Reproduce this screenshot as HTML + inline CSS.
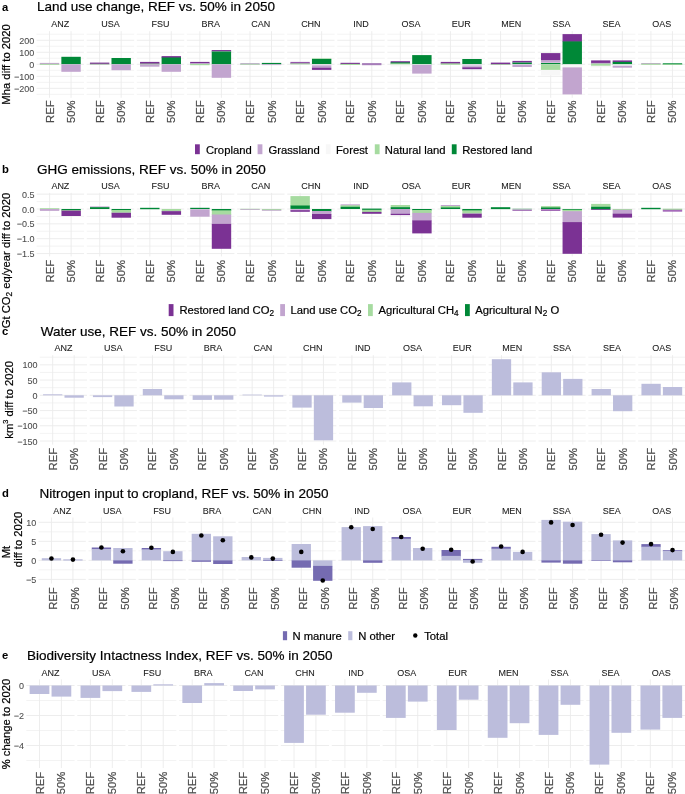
<!DOCTYPE html><html><head><meta charset="utf-8"><style>html,body{margin:0;padding:0;background:#fff;overflow:hidden}svg{display:block;will-change:transform}</style></head><body>
<svg width="685" height="794" viewBox="0 0 685 794" font-family="'Liberation Sans', sans-serif">
<rect width="685" height="794" fill="#fff"/>
<line x1="36.57" x2="83.99" y1="34.22" y2="34.22" stroke="#EBEBEB" stroke-width="0.6"/>
<line x1="36.57" x2="83.99" y1="46.25" y2="46.25" stroke="#EBEBEB" stroke-width="0.6"/>
<line x1="36.57" x2="83.99" y1="58.28" y2="58.28" stroke="#EBEBEB" stroke-width="0.6"/>
<line x1="36.57" x2="83.99" y1="70.31" y2="70.31" stroke="#EBEBEB" stroke-width="0.6"/>
<line x1="36.57" x2="83.99" y1="82.34" y2="82.34" stroke="#EBEBEB" stroke-width="0.6"/>
<line x1="36.57" x2="83.99" y1="94.38" y2="94.38" stroke="#EBEBEB" stroke-width="0.6"/>
<line x1="36.57" x2="83.99" y1="40.24" y2="40.24" stroke="#EBEBEB" stroke-width="0.9"/>
<line x1="36.57" x2="83.99" y1="52.27" y2="52.27" stroke="#EBEBEB" stroke-width="0.9"/>
<line x1="36.57" x2="83.99" y1="64.3" y2="64.3" stroke="#EBEBEB" stroke-width="0.9"/>
<line x1="36.57" x2="83.99" y1="76.33" y2="76.33" stroke="#EBEBEB" stroke-width="0.9"/>
<line x1="36.57" x2="83.99" y1="88.36" y2="88.36" stroke="#EBEBEB" stroke-width="0.9"/>
<line x1="49.5" x2="49.5" y1="31.2" y2="97.8" stroke="#EBEBEB" stroke-width="0.9"/>
<line x1="71.05" x2="71.05" y1="31.2" y2="97.8" stroke="#EBEBEB" stroke-width="0.9"/>
<text font-size="9.0" fill="#1A1A1A" stroke="#1A1A1A" stroke-width="0.08" text-anchor="middle" transform="translate(60.28 27.4) scale(1 1.04)">ANZ</text>
<text font-size="11.25" fill="#4D4D4D" stroke="#4D4D4D" stroke-width="0.20" text-anchor="end" transform="translate(53.5 100.4) rotate(-90) scale(1 1.04)">REF</text>
<text font-size="11.25" fill="#4D4D4D" stroke="#4D4D4D" stroke-width="0.20" text-anchor="end" transform="translate(75.05 100.4) rotate(-90) scale(1 1.015)">50%</text>
<line x1="86.69" x2="134.1" y1="34.22" y2="34.22" stroke="#EBEBEB" stroke-width="0.6"/>
<line x1="86.69" x2="134.1" y1="46.25" y2="46.25" stroke="#EBEBEB" stroke-width="0.6"/>
<line x1="86.69" x2="134.1" y1="58.28" y2="58.28" stroke="#EBEBEB" stroke-width="0.6"/>
<line x1="86.69" x2="134.1" y1="70.31" y2="70.31" stroke="#EBEBEB" stroke-width="0.6"/>
<line x1="86.69" x2="134.1" y1="82.34" y2="82.34" stroke="#EBEBEB" stroke-width="0.6"/>
<line x1="86.69" x2="134.1" y1="94.38" y2="94.38" stroke="#EBEBEB" stroke-width="0.6"/>
<line x1="86.69" x2="134.1" y1="40.24" y2="40.24" stroke="#EBEBEB" stroke-width="0.9"/>
<line x1="86.69" x2="134.1" y1="52.27" y2="52.27" stroke="#EBEBEB" stroke-width="0.9"/>
<line x1="86.69" x2="134.1" y1="64.3" y2="64.3" stroke="#EBEBEB" stroke-width="0.9"/>
<line x1="86.69" x2="134.1" y1="76.33" y2="76.33" stroke="#EBEBEB" stroke-width="0.9"/>
<line x1="86.69" x2="134.1" y1="88.36" y2="88.36" stroke="#EBEBEB" stroke-width="0.9"/>
<line x1="99.62" x2="99.62" y1="31.2" y2="97.8" stroke="#EBEBEB" stroke-width="0.9"/>
<line x1="121.17" x2="121.17" y1="31.2" y2="97.8" stroke="#EBEBEB" stroke-width="0.9"/>
<text font-size="9.0" fill="#1A1A1A" stroke="#1A1A1A" stroke-width="0.08" text-anchor="middle" transform="translate(110.39 27.4) scale(1 1.04)">USA</text>
<text font-size="11.25" fill="#4D4D4D" stroke="#4D4D4D" stroke-width="0.20" text-anchor="end" transform="translate(103.62 100.4) rotate(-90) scale(1 1.04)">REF</text>
<text font-size="11.25" fill="#4D4D4D" stroke="#4D4D4D" stroke-width="0.20" text-anchor="end" transform="translate(125.17 100.4) rotate(-90) scale(1 1.015)">50%</text>
<line x1="136.8" x2="184.22" y1="34.22" y2="34.22" stroke="#EBEBEB" stroke-width="0.6"/>
<line x1="136.8" x2="184.22" y1="46.25" y2="46.25" stroke="#EBEBEB" stroke-width="0.6"/>
<line x1="136.8" x2="184.22" y1="58.28" y2="58.28" stroke="#EBEBEB" stroke-width="0.6"/>
<line x1="136.8" x2="184.22" y1="70.31" y2="70.31" stroke="#EBEBEB" stroke-width="0.6"/>
<line x1="136.8" x2="184.22" y1="82.34" y2="82.34" stroke="#EBEBEB" stroke-width="0.6"/>
<line x1="136.8" x2="184.22" y1="94.38" y2="94.38" stroke="#EBEBEB" stroke-width="0.6"/>
<line x1="136.8" x2="184.22" y1="40.24" y2="40.24" stroke="#EBEBEB" stroke-width="0.9"/>
<line x1="136.8" x2="184.22" y1="52.27" y2="52.27" stroke="#EBEBEB" stroke-width="0.9"/>
<line x1="136.8" x2="184.22" y1="64.3" y2="64.3" stroke="#EBEBEB" stroke-width="0.9"/>
<line x1="136.8" x2="184.22" y1="76.33" y2="76.33" stroke="#EBEBEB" stroke-width="0.9"/>
<line x1="136.8" x2="184.22" y1="88.36" y2="88.36" stroke="#EBEBEB" stroke-width="0.9"/>
<line x1="149.73" x2="149.73" y1="31.2" y2="97.8" stroke="#EBEBEB" stroke-width="0.9"/>
<line x1="171.29" x2="171.29" y1="31.2" y2="97.8" stroke="#EBEBEB" stroke-width="0.9"/>
<text font-size="9.0" fill="#1A1A1A" stroke="#1A1A1A" stroke-width="0.08" text-anchor="middle" transform="translate(160.51 27.4) scale(1 1.04)">FSU</text>
<text font-size="11.25" fill="#4D4D4D" stroke="#4D4D4D" stroke-width="0.20" text-anchor="end" transform="translate(153.73 100.4) rotate(-90) scale(1 1.04)">REF</text>
<text font-size="11.25" fill="#4D4D4D" stroke="#4D4D4D" stroke-width="0.20" text-anchor="end" transform="translate(175.29 100.4) rotate(-90) scale(1 1.015)">50%</text>
<line x1="186.92" x2="234.34" y1="34.22" y2="34.22" stroke="#EBEBEB" stroke-width="0.6"/>
<line x1="186.92" x2="234.34" y1="46.25" y2="46.25" stroke="#EBEBEB" stroke-width="0.6"/>
<line x1="186.92" x2="234.34" y1="58.28" y2="58.28" stroke="#EBEBEB" stroke-width="0.6"/>
<line x1="186.92" x2="234.34" y1="70.31" y2="70.31" stroke="#EBEBEB" stroke-width="0.6"/>
<line x1="186.92" x2="234.34" y1="82.34" y2="82.34" stroke="#EBEBEB" stroke-width="0.6"/>
<line x1="186.92" x2="234.34" y1="94.38" y2="94.38" stroke="#EBEBEB" stroke-width="0.6"/>
<line x1="186.92" x2="234.34" y1="40.24" y2="40.24" stroke="#EBEBEB" stroke-width="0.9"/>
<line x1="186.92" x2="234.34" y1="52.27" y2="52.27" stroke="#EBEBEB" stroke-width="0.9"/>
<line x1="186.92" x2="234.34" y1="64.3" y2="64.3" stroke="#EBEBEB" stroke-width="0.9"/>
<line x1="186.92" x2="234.34" y1="76.33" y2="76.33" stroke="#EBEBEB" stroke-width="0.9"/>
<line x1="186.92" x2="234.34" y1="88.36" y2="88.36" stroke="#EBEBEB" stroke-width="0.9"/>
<line x1="199.85" x2="199.85" y1="31.2" y2="97.8" stroke="#EBEBEB" stroke-width="0.9"/>
<line x1="221.41" x2="221.41" y1="31.2" y2="97.8" stroke="#EBEBEB" stroke-width="0.9"/>
<text font-size="9.0" fill="#1A1A1A" stroke="#1A1A1A" stroke-width="0.08" text-anchor="middle" transform="translate(210.63 27.4) scale(1 1.04)">BRA</text>
<text font-size="11.25" fill="#4D4D4D" stroke="#4D4D4D" stroke-width="0.20" text-anchor="end" transform="translate(203.85 100.4) rotate(-90) scale(1 1.04)">REF</text>
<text font-size="11.25" fill="#4D4D4D" stroke="#4D4D4D" stroke-width="0.20" text-anchor="end" transform="translate(225.41 100.4) rotate(-90) scale(1 1.015)">50%</text>
<line x1="237.04" x2="284.46" y1="34.22" y2="34.22" stroke="#EBEBEB" stroke-width="0.6"/>
<line x1="237.04" x2="284.46" y1="46.25" y2="46.25" stroke="#EBEBEB" stroke-width="0.6"/>
<line x1="237.04" x2="284.46" y1="58.28" y2="58.28" stroke="#EBEBEB" stroke-width="0.6"/>
<line x1="237.04" x2="284.46" y1="70.31" y2="70.31" stroke="#EBEBEB" stroke-width="0.6"/>
<line x1="237.04" x2="284.46" y1="82.34" y2="82.34" stroke="#EBEBEB" stroke-width="0.6"/>
<line x1="237.04" x2="284.46" y1="94.38" y2="94.38" stroke="#EBEBEB" stroke-width="0.6"/>
<line x1="237.04" x2="284.46" y1="40.24" y2="40.24" stroke="#EBEBEB" stroke-width="0.9"/>
<line x1="237.04" x2="284.46" y1="52.27" y2="52.27" stroke="#EBEBEB" stroke-width="0.9"/>
<line x1="237.04" x2="284.46" y1="64.3" y2="64.3" stroke="#EBEBEB" stroke-width="0.9"/>
<line x1="237.04" x2="284.46" y1="76.33" y2="76.33" stroke="#EBEBEB" stroke-width="0.9"/>
<line x1="237.04" x2="284.46" y1="88.36" y2="88.36" stroke="#EBEBEB" stroke-width="0.9"/>
<line x1="249.97" x2="249.97" y1="31.2" y2="97.8" stroke="#EBEBEB" stroke-width="0.9"/>
<line x1="271.53" x2="271.53" y1="31.2" y2="97.8" stroke="#EBEBEB" stroke-width="0.9"/>
<text font-size="9.0" fill="#1A1A1A" stroke="#1A1A1A" stroke-width="0.08" text-anchor="middle" transform="translate(260.75 27.4) scale(1 1.04)">CAN</text>
<text font-size="11.25" fill="#4D4D4D" stroke="#4D4D4D" stroke-width="0.20" text-anchor="end" transform="translate(253.97 100.4) rotate(-90) scale(1 1.04)">REF</text>
<text font-size="11.25" fill="#4D4D4D" stroke="#4D4D4D" stroke-width="0.20" text-anchor="end" transform="translate(275.53 100.4) rotate(-90) scale(1 1.015)">50%</text>
<line x1="287.16" x2="334.57" y1="34.22" y2="34.22" stroke="#EBEBEB" stroke-width="0.6"/>
<line x1="287.16" x2="334.57" y1="46.25" y2="46.25" stroke="#EBEBEB" stroke-width="0.6"/>
<line x1="287.16" x2="334.57" y1="58.28" y2="58.28" stroke="#EBEBEB" stroke-width="0.6"/>
<line x1="287.16" x2="334.57" y1="70.31" y2="70.31" stroke="#EBEBEB" stroke-width="0.6"/>
<line x1="287.16" x2="334.57" y1="82.34" y2="82.34" stroke="#EBEBEB" stroke-width="0.6"/>
<line x1="287.16" x2="334.57" y1="94.38" y2="94.38" stroke="#EBEBEB" stroke-width="0.6"/>
<line x1="287.16" x2="334.57" y1="40.24" y2="40.24" stroke="#EBEBEB" stroke-width="0.9"/>
<line x1="287.16" x2="334.57" y1="52.27" y2="52.27" stroke="#EBEBEB" stroke-width="0.9"/>
<line x1="287.16" x2="334.57" y1="64.3" y2="64.3" stroke="#EBEBEB" stroke-width="0.9"/>
<line x1="287.16" x2="334.57" y1="76.33" y2="76.33" stroke="#EBEBEB" stroke-width="0.9"/>
<line x1="287.16" x2="334.57" y1="88.36" y2="88.36" stroke="#EBEBEB" stroke-width="0.9"/>
<line x1="300.09" x2="300.09" y1="31.2" y2="97.8" stroke="#EBEBEB" stroke-width="0.9"/>
<line x1="321.64" x2="321.64" y1="31.2" y2="97.8" stroke="#EBEBEB" stroke-width="0.9"/>
<text font-size="9.0" fill="#1A1A1A" stroke="#1A1A1A" stroke-width="0.08" text-anchor="middle" transform="translate(310.87 27.4) scale(1 1.04)">CHN</text>
<text font-size="11.25" fill="#4D4D4D" stroke="#4D4D4D" stroke-width="0.20" text-anchor="end" transform="translate(304.09 100.4) rotate(-90) scale(1 1.04)">REF</text>
<text font-size="11.25" fill="#4D4D4D" stroke="#4D4D4D" stroke-width="0.20" text-anchor="end" transform="translate(325.64 100.4) rotate(-90) scale(1 1.015)">50%</text>
<line x1="337.27" x2="384.69" y1="34.22" y2="34.22" stroke="#EBEBEB" stroke-width="0.6"/>
<line x1="337.27" x2="384.69" y1="46.25" y2="46.25" stroke="#EBEBEB" stroke-width="0.6"/>
<line x1="337.27" x2="384.69" y1="58.28" y2="58.28" stroke="#EBEBEB" stroke-width="0.6"/>
<line x1="337.27" x2="384.69" y1="70.31" y2="70.31" stroke="#EBEBEB" stroke-width="0.6"/>
<line x1="337.27" x2="384.69" y1="82.34" y2="82.34" stroke="#EBEBEB" stroke-width="0.6"/>
<line x1="337.27" x2="384.69" y1="94.38" y2="94.38" stroke="#EBEBEB" stroke-width="0.6"/>
<line x1="337.27" x2="384.69" y1="40.24" y2="40.24" stroke="#EBEBEB" stroke-width="0.9"/>
<line x1="337.27" x2="384.69" y1="52.27" y2="52.27" stroke="#EBEBEB" stroke-width="0.9"/>
<line x1="337.27" x2="384.69" y1="64.3" y2="64.3" stroke="#EBEBEB" stroke-width="0.9"/>
<line x1="337.27" x2="384.69" y1="76.33" y2="76.33" stroke="#EBEBEB" stroke-width="0.9"/>
<line x1="337.27" x2="384.69" y1="88.36" y2="88.36" stroke="#EBEBEB" stroke-width="0.9"/>
<line x1="350.21" x2="350.21" y1="31.2" y2="97.8" stroke="#EBEBEB" stroke-width="0.9"/>
<line x1="371.76" x2="371.76" y1="31.2" y2="97.8" stroke="#EBEBEB" stroke-width="0.9"/>
<text font-size="9.0" fill="#1A1A1A" stroke="#1A1A1A" stroke-width="0.08" text-anchor="middle" transform="translate(360.98 27.4) scale(1 1.04)">IND</text>
<text font-size="11.25" fill="#4D4D4D" stroke="#4D4D4D" stroke-width="0.20" text-anchor="end" transform="translate(354.21 100.4) rotate(-90) scale(1 1.04)">REF</text>
<text font-size="11.25" fill="#4D4D4D" stroke="#4D4D4D" stroke-width="0.20" text-anchor="end" transform="translate(375.76 100.4) rotate(-90) scale(1 1.015)">50%</text>
<line x1="387.39" x2="434.81" y1="34.22" y2="34.22" stroke="#EBEBEB" stroke-width="0.6"/>
<line x1="387.39" x2="434.81" y1="46.25" y2="46.25" stroke="#EBEBEB" stroke-width="0.6"/>
<line x1="387.39" x2="434.81" y1="58.28" y2="58.28" stroke="#EBEBEB" stroke-width="0.6"/>
<line x1="387.39" x2="434.81" y1="70.31" y2="70.31" stroke="#EBEBEB" stroke-width="0.6"/>
<line x1="387.39" x2="434.81" y1="82.34" y2="82.34" stroke="#EBEBEB" stroke-width="0.6"/>
<line x1="387.39" x2="434.81" y1="94.38" y2="94.38" stroke="#EBEBEB" stroke-width="0.6"/>
<line x1="387.39" x2="434.81" y1="40.24" y2="40.24" stroke="#EBEBEB" stroke-width="0.9"/>
<line x1="387.39" x2="434.81" y1="52.27" y2="52.27" stroke="#EBEBEB" stroke-width="0.9"/>
<line x1="387.39" x2="434.81" y1="64.3" y2="64.3" stroke="#EBEBEB" stroke-width="0.9"/>
<line x1="387.39" x2="434.81" y1="76.33" y2="76.33" stroke="#EBEBEB" stroke-width="0.9"/>
<line x1="387.39" x2="434.81" y1="88.36" y2="88.36" stroke="#EBEBEB" stroke-width="0.9"/>
<line x1="400.32" x2="400.32" y1="31.2" y2="97.8" stroke="#EBEBEB" stroke-width="0.9"/>
<line x1="421.88" x2="421.88" y1="31.2" y2="97.8" stroke="#EBEBEB" stroke-width="0.9"/>
<text font-size="9.0" fill="#1A1A1A" stroke="#1A1A1A" stroke-width="0.08" text-anchor="middle" transform="translate(411.1 27.4) scale(1 1.04)">OSA</text>
<text font-size="11.25" fill="#4D4D4D" stroke="#4D4D4D" stroke-width="0.20" text-anchor="end" transform="translate(404.32 100.4) rotate(-90) scale(1 1.04)">REF</text>
<text font-size="11.25" fill="#4D4D4D" stroke="#4D4D4D" stroke-width="0.20" text-anchor="end" transform="translate(425.88 100.4) rotate(-90) scale(1 1.015)">50%</text>
<line x1="437.51" x2="484.93" y1="34.22" y2="34.22" stroke="#EBEBEB" stroke-width="0.6"/>
<line x1="437.51" x2="484.93" y1="46.25" y2="46.25" stroke="#EBEBEB" stroke-width="0.6"/>
<line x1="437.51" x2="484.93" y1="58.28" y2="58.28" stroke="#EBEBEB" stroke-width="0.6"/>
<line x1="437.51" x2="484.93" y1="70.31" y2="70.31" stroke="#EBEBEB" stroke-width="0.6"/>
<line x1="437.51" x2="484.93" y1="82.34" y2="82.34" stroke="#EBEBEB" stroke-width="0.6"/>
<line x1="437.51" x2="484.93" y1="94.38" y2="94.38" stroke="#EBEBEB" stroke-width="0.6"/>
<line x1="437.51" x2="484.93" y1="40.24" y2="40.24" stroke="#EBEBEB" stroke-width="0.9"/>
<line x1="437.51" x2="484.93" y1="52.27" y2="52.27" stroke="#EBEBEB" stroke-width="0.9"/>
<line x1="437.51" x2="484.93" y1="64.3" y2="64.3" stroke="#EBEBEB" stroke-width="0.9"/>
<line x1="437.51" x2="484.93" y1="76.33" y2="76.33" stroke="#EBEBEB" stroke-width="0.9"/>
<line x1="437.51" x2="484.93" y1="88.36" y2="88.36" stroke="#EBEBEB" stroke-width="0.9"/>
<line x1="450.44" x2="450.44" y1="31.2" y2="97.8" stroke="#EBEBEB" stroke-width="0.9"/>
<line x1="472" x2="472" y1="31.2" y2="97.8" stroke="#EBEBEB" stroke-width="0.9"/>
<text font-size="9.0" fill="#1A1A1A" stroke="#1A1A1A" stroke-width="0.08" text-anchor="middle" transform="translate(461.22 27.4) scale(1 1.04)">EUR</text>
<text font-size="11.25" fill="#4D4D4D" stroke="#4D4D4D" stroke-width="0.20" text-anchor="end" transform="translate(454.44 100.4) rotate(-90) scale(1 1.04)">REF</text>
<text font-size="11.25" fill="#4D4D4D" stroke="#4D4D4D" stroke-width="0.20" text-anchor="end" transform="translate(476 100.4) rotate(-90) scale(1 1.015)">50%</text>
<line x1="487.63" x2="535.05" y1="34.22" y2="34.22" stroke="#EBEBEB" stroke-width="0.6"/>
<line x1="487.63" x2="535.05" y1="46.25" y2="46.25" stroke="#EBEBEB" stroke-width="0.6"/>
<line x1="487.63" x2="535.05" y1="58.28" y2="58.28" stroke="#EBEBEB" stroke-width="0.6"/>
<line x1="487.63" x2="535.05" y1="70.31" y2="70.31" stroke="#EBEBEB" stroke-width="0.6"/>
<line x1="487.63" x2="535.05" y1="82.34" y2="82.34" stroke="#EBEBEB" stroke-width="0.6"/>
<line x1="487.63" x2="535.05" y1="94.38" y2="94.38" stroke="#EBEBEB" stroke-width="0.6"/>
<line x1="487.63" x2="535.05" y1="40.24" y2="40.24" stroke="#EBEBEB" stroke-width="0.9"/>
<line x1="487.63" x2="535.05" y1="52.27" y2="52.27" stroke="#EBEBEB" stroke-width="0.9"/>
<line x1="487.63" x2="535.05" y1="64.3" y2="64.3" stroke="#EBEBEB" stroke-width="0.9"/>
<line x1="487.63" x2="535.05" y1="76.33" y2="76.33" stroke="#EBEBEB" stroke-width="0.9"/>
<line x1="487.63" x2="535.05" y1="88.36" y2="88.36" stroke="#EBEBEB" stroke-width="0.9"/>
<line x1="500.56" x2="500.56" y1="31.2" y2="97.8" stroke="#EBEBEB" stroke-width="0.9"/>
<line x1="522.12" x2="522.12" y1="31.2" y2="97.8" stroke="#EBEBEB" stroke-width="0.9"/>
<text font-size="9.0" fill="#1A1A1A" stroke="#1A1A1A" stroke-width="0.08" text-anchor="middle" transform="translate(511.34 27.4) scale(1 1.04)">MEN</text>
<text font-size="11.25" fill="#4D4D4D" stroke="#4D4D4D" stroke-width="0.20" text-anchor="end" transform="translate(504.56 100.4) rotate(-90) scale(1 1.04)">REF</text>
<text font-size="11.25" fill="#4D4D4D" stroke="#4D4D4D" stroke-width="0.20" text-anchor="end" transform="translate(526.12 100.4) rotate(-90) scale(1 1.015)">50%</text>
<line x1="537.75" x2="585.16" y1="34.22" y2="34.22" stroke="#EBEBEB" stroke-width="0.6"/>
<line x1="537.75" x2="585.16" y1="46.25" y2="46.25" stroke="#EBEBEB" stroke-width="0.6"/>
<line x1="537.75" x2="585.16" y1="58.28" y2="58.28" stroke="#EBEBEB" stroke-width="0.6"/>
<line x1="537.75" x2="585.16" y1="70.31" y2="70.31" stroke="#EBEBEB" stroke-width="0.6"/>
<line x1="537.75" x2="585.16" y1="82.34" y2="82.34" stroke="#EBEBEB" stroke-width="0.6"/>
<line x1="537.75" x2="585.16" y1="94.38" y2="94.38" stroke="#EBEBEB" stroke-width="0.6"/>
<line x1="537.75" x2="585.16" y1="40.24" y2="40.24" stroke="#EBEBEB" stroke-width="0.9"/>
<line x1="537.75" x2="585.16" y1="52.27" y2="52.27" stroke="#EBEBEB" stroke-width="0.9"/>
<line x1="537.75" x2="585.16" y1="64.3" y2="64.3" stroke="#EBEBEB" stroke-width="0.9"/>
<line x1="537.75" x2="585.16" y1="76.33" y2="76.33" stroke="#EBEBEB" stroke-width="0.9"/>
<line x1="537.75" x2="585.16" y1="88.36" y2="88.36" stroke="#EBEBEB" stroke-width="0.9"/>
<line x1="550.68" x2="550.68" y1="31.2" y2="97.8" stroke="#EBEBEB" stroke-width="0.9"/>
<line x1="572.23" x2="572.23" y1="31.2" y2="97.8" stroke="#EBEBEB" stroke-width="0.9"/>
<text font-size="9.0" fill="#1A1A1A" stroke="#1A1A1A" stroke-width="0.08" text-anchor="middle" transform="translate(561.46 27.4) scale(1 1.04)">SSA</text>
<text font-size="11.25" fill="#4D4D4D" stroke="#4D4D4D" stroke-width="0.20" text-anchor="end" transform="translate(554.68 100.4) rotate(-90) scale(1 1.04)">REF</text>
<text font-size="11.25" fill="#4D4D4D" stroke="#4D4D4D" stroke-width="0.20" text-anchor="end" transform="translate(576.23 100.4) rotate(-90) scale(1 1.015)">50%</text>
<line x1="587.86" x2="635.28" y1="34.22" y2="34.22" stroke="#EBEBEB" stroke-width="0.6"/>
<line x1="587.86" x2="635.28" y1="46.25" y2="46.25" stroke="#EBEBEB" stroke-width="0.6"/>
<line x1="587.86" x2="635.28" y1="58.28" y2="58.28" stroke="#EBEBEB" stroke-width="0.6"/>
<line x1="587.86" x2="635.28" y1="70.31" y2="70.31" stroke="#EBEBEB" stroke-width="0.6"/>
<line x1="587.86" x2="635.28" y1="82.34" y2="82.34" stroke="#EBEBEB" stroke-width="0.6"/>
<line x1="587.86" x2="635.28" y1="94.38" y2="94.38" stroke="#EBEBEB" stroke-width="0.6"/>
<line x1="587.86" x2="635.28" y1="40.24" y2="40.24" stroke="#EBEBEB" stroke-width="0.9"/>
<line x1="587.86" x2="635.28" y1="52.27" y2="52.27" stroke="#EBEBEB" stroke-width="0.9"/>
<line x1="587.86" x2="635.28" y1="64.3" y2="64.3" stroke="#EBEBEB" stroke-width="0.9"/>
<line x1="587.86" x2="635.28" y1="76.33" y2="76.33" stroke="#EBEBEB" stroke-width="0.9"/>
<line x1="587.86" x2="635.28" y1="88.36" y2="88.36" stroke="#EBEBEB" stroke-width="0.9"/>
<line x1="600.8" x2="600.8" y1="31.2" y2="97.8" stroke="#EBEBEB" stroke-width="0.9"/>
<line x1="622.35" x2="622.35" y1="31.2" y2="97.8" stroke="#EBEBEB" stroke-width="0.9"/>
<text font-size="9.0" fill="#1A1A1A" stroke="#1A1A1A" stroke-width="0.08" text-anchor="middle" transform="translate(611.57 27.4) scale(1 1.04)">SEA</text>
<text font-size="11.25" fill="#4D4D4D" stroke="#4D4D4D" stroke-width="0.20" text-anchor="end" transform="translate(604.8 100.4) rotate(-90) scale(1 1.04)">REF</text>
<text font-size="11.25" fill="#4D4D4D" stroke="#4D4D4D" stroke-width="0.20" text-anchor="end" transform="translate(626.35 100.4) rotate(-90) scale(1 1.015)">50%</text>
<line x1="637.98" x2="685.4" y1="34.22" y2="34.22" stroke="#EBEBEB" stroke-width="0.6"/>
<line x1="637.98" x2="685.4" y1="46.25" y2="46.25" stroke="#EBEBEB" stroke-width="0.6"/>
<line x1="637.98" x2="685.4" y1="58.28" y2="58.28" stroke="#EBEBEB" stroke-width="0.6"/>
<line x1="637.98" x2="685.4" y1="70.31" y2="70.31" stroke="#EBEBEB" stroke-width="0.6"/>
<line x1="637.98" x2="685.4" y1="82.34" y2="82.34" stroke="#EBEBEB" stroke-width="0.6"/>
<line x1="637.98" x2="685.4" y1="94.38" y2="94.38" stroke="#EBEBEB" stroke-width="0.6"/>
<line x1="637.98" x2="685.4" y1="40.24" y2="40.24" stroke="#EBEBEB" stroke-width="0.9"/>
<line x1="637.98" x2="685.4" y1="52.27" y2="52.27" stroke="#EBEBEB" stroke-width="0.9"/>
<line x1="637.98" x2="685.4" y1="64.3" y2="64.3" stroke="#EBEBEB" stroke-width="0.9"/>
<line x1="637.98" x2="685.4" y1="76.33" y2="76.33" stroke="#EBEBEB" stroke-width="0.9"/>
<line x1="637.98" x2="685.4" y1="88.36" y2="88.36" stroke="#EBEBEB" stroke-width="0.9"/>
<line x1="650.91" x2="650.91" y1="31.2" y2="97.8" stroke="#EBEBEB" stroke-width="0.9"/>
<line x1="672.47" x2="672.47" y1="31.2" y2="97.8" stroke="#EBEBEB" stroke-width="0.9"/>
<text font-size="9.0" fill="#1A1A1A" stroke="#1A1A1A" stroke-width="0.08" text-anchor="middle" transform="translate(661.69 27.4) scale(1 1.04)">OAS</text>
<text font-size="11.25" fill="#4D4D4D" stroke="#4D4D4D" stroke-width="0.20" text-anchor="end" transform="translate(654.91 100.4) rotate(-90) scale(1 1.04)">REF</text>
<text font-size="11.25" fill="#4D4D4D" stroke="#4D4D4D" stroke-width="0.20" text-anchor="end" transform="translate(676.47 100.4) rotate(-90) scale(1 1.015)">50%</text>
<rect x="39.8" y="62.9" width="19.39" height="1.5" fill="#C2A5CF"/>
<rect x="39.8" y="63.9" width="19.39" height="0.9" fill="#A6DBA0"/>
<rect x="61.36" y="56.8" width="19.39" height="7.4" fill="#008837"/>
<rect x="61.36" y="64.4" width="19.39" height="7.4" fill="#C2A5CF"/>
<rect x="89.92" y="62.6" width="19.39" height="1.7" fill="#7B3294"/>
<rect x="89.92" y="63.8" width="19.39" height="0.7" fill="#A6DBA0"/>
<rect x="111.48" y="58" width="19.39" height="6.2" fill="#008837"/>
<rect x="111.48" y="64.4" width="19.39" height="5.8" fill="#C2A5CF"/>
<rect x="140.04" y="61.9" width="19.39" height="2.2" fill="#7B3294"/>
<rect x="140.04" y="63.6" width="19.39" height="1.3" fill="#A6DBA0"/>
<rect x="140.04" y="64.4" width="19.39" height="2.3" fill="#C2A5CF"/>
<rect x="161.59" y="56.1" width="19.39" height="1.9" fill="#7B3294"/>
<rect x="161.59" y="57.5" width="19.39" height="6.7" fill="#008837"/>
<rect x="161.59" y="64.4" width="19.39" height="7.4" fill="#C2A5CF"/>
<rect x="190.15" y="61.9" width="19.39" height="1.7" fill="#7B3294"/>
<rect x="190.15" y="63.1" width="19.39" height="1.3" fill="#C2A5CF"/>
<rect x="190.15" y="63.9" width="19.39" height="1.3" fill="#A6DBA0"/>
<rect x="211.71" y="50" width="19.39" height="1.4" fill="#7B3294"/>
<rect x="211.71" y="50.9" width="19.39" height="1.1" fill="#C2A5CF"/>
<rect x="211.71" y="51.5" width="19.39" height="12.7" fill="#008837"/>
<rect x="211.71" y="64.4" width="19.39" height="13.4" fill="#C2A5CF"/>
<rect x="240.27" y="63.1" width="19.39" height="1.5" fill="#B7B0C4"/>
<rect x="240.27" y="64.1" width="19.39" height="0.9" fill="#B5D2B5"/>
<rect x="261.83" y="62.9" width="19.39" height="1.3" fill="#008837"/>
<rect x="261.83" y="64.3" width="19.39" height="0.8" fill="#C2A5CF"/>
<rect x="290.39" y="61.9" width="19.39" height="2" fill="#9557AB"/>
<rect x="290.39" y="63.4" width="19.39" height="1" fill="#A6DBA0"/>
<rect x="311.95" y="58.5" width="19.39" height="0.9" fill="#A6DBA0"/>
<rect x="311.95" y="58.9" width="19.39" height="5.2" fill="#008837"/>
<rect x="311.95" y="64.4" width="19.39" height="1.6" fill="#E6DCEA"/>
<rect x="311.95" y="65.5" width="19.39" height="2.8" fill="#C2A5CF"/>
<rect x="311.95" y="67.8" width="19.39" height="2.1" fill="#7B3294"/>
<rect x="340.51" y="62.8" width="19.39" height="1.6" fill="#7B3294"/>
<rect x="340.51" y="63.9" width="19.39" height="1.1" fill="#A6DBA0"/>
<rect x="362.06" y="63.1" width="19.39" height="2.1" fill="#A67DB9"/>
<rect x="390.63" y="61.2" width="19.39" height="1.7" fill="#7B3294"/>
<rect x="390.63" y="62.4" width="19.39" height="1.5" fill="#008837"/>
<rect x="390.63" y="63.4" width="19.39" height="1.5" fill="#A6DBA0"/>
<rect x="390.63" y="64.4" width="19.39" height="2.1" fill="#F7F7F7"/>
<rect x="412.18" y="55.1" width="19.39" height="9.6" fill="#008837"/>
<rect x="412.18" y="64.2" width="19.39" height="1.2" fill="#F7F7F7"/>
<rect x="412.18" y="64.9" width="19.39" height="8.7" fill="#C2A5CF"/>
<rect x="440.74" y="61.9" width="19.39" height="2" fill="#7B3294"/>
<rect x="440.74" y="63.4" width="19.39" height="1.4" fill="#A6DBA0"/>
<rect x="462.3" y="59" width="19.39" height="5.1" fill="#008837"/>
<rect x="462.3" y="64.6" width="19.39" height="2.2" fill="#DCCDE3"/>
<rect x="462.3" y="66.3" width="19.39" height="1.6" fill="#C2A5CF"/>
<rect x="462.3" y="67.4" width="19.39" height="1.8" fill="#7B3294"/>
<rect x="490.86" y="62.6" width="19.39" height="2" fill="#7B3294"/>
<rect x="490.86" y="64.1" width="19.39" height="0.7" fill="#A6DBA0"/>
<rect x="512.42" y="60.9" width="19.39" height="1.9" fill="#7B3294"/>
<rect x="512.42" y="62.3" width="19.39" height="0.8" fill="#C2A5CF"/>
<rect x="512.42" y="62.6" width="19.39" height="1.5" fill="#008837"/>
<rect x="512.42" y="64.6" width="19.39" height="2.4" fill="#C2A5CF"/>
<rect x="540.98" y="53.1" width="19.39" height="7.5" fill="#7B3294"/>
<rect x="540.98" y="60.1" width="19.39" height="3.1" fill="#C2A5CF"/>
<rect x="540.98" y="62.7" width="19.39" height="0.8" fill="#F7F7F7"/>
<rect x="540.98" y="63" width="19.39" height="1.2" fill="#008837"/>
<rect x="540.98" y="64.4" width="19.39" height="6" fill="#A6DBA0"/>
<rect x="540.98" y="69.9" width="19.39" height="5.5" fill="#F7F7F7"/>
<rect x="562.54" y="34.1" width="19.39" height="7.8" fill="#7B3294"/>
<rect x="562.54" y="41.4" width="19.39" height="23.3" fill="#008837"/>
<rect x="562.54" y="64.2" width="19.39" height="3.7" fill="#F7F7F7"/>
<rect x="562.54" y="67.4" width="19.39" height="27" fill="#C2A5CF"/>
<rect x="591.1" y="60.4" width="19.39" height="3" fill="#7B3294"/>
<rect x="591.1" y="62.9" width="19.39" height="1.2" fill="#C2A5CF"/>
<rect x="591.1" y="63.6" width="19.39" height="2.6" fill="#A6DBA0"/>
<rect x="591.1" y="65.7" width="19.39" height="1.7" fill="#F7F7F7"/>
<rect x="612.65" y="60.4" width="19.39" height="2" fill="#7B3294"/>
<rect x="612.65" y="61.9" width="19.39" height="2.8" fill="#008837"/>
<rect x="612.65" y="64.2" width="19.39" height="2" fill="#F7F7F7"/>
<rect x="612.65" y="65.7" width="19.39" height="2" fill="#C2A5CF"/>
<rect x="641.22" y="63" width="19.39" height="1.2" fill="#C2A5CF"/>
<rect x="641.22" y="63.7" width="19.39" height="1.1" fill="#A6DBA0"/>
<rect x="662.77" y="63.3" width="19.39" height="1.4" fill="#008837"/>
<rect x="662.77" y="64.2" width="19.39" height="0.7" fill="#A6DBA0"/>
<text font-size="9.0" fill="#4D4D4D" stroke="#4D4D4D" stroke-width="0.08" text-anchor="end" transform="translate(34.32 43.84)">200</text>
<text font-size="9.0" fill="#4D4D4D" stroke="#4D4D4D" stroke-width="0.08" text-anchor="end" transform="translate(34.32 55.87)">100</text>
<text font-size="9.0" fill="#4D4D4D" stroke="#4D4D4D" stroke-width="0.08" text-anchor="end" transform="translate(34.32 67.9)">0</text>
<text font-size="9.0" fill="#4D4D4D" stroke="#4D4D4D" stroke-width="0.08" text-anchor="end" transform="translate(34.32 79.93)">−100</text>
<text font-size="9.0" fill="#4D4D4D" stroke="#4D4D4D" stroke-width="0.08" text-anchor="end" transform="translate(34.32 91.96)">−200</text>
<text font-size="13.5" fill="#000" stroke="#000" stroke-width="0.20" text-anchor="start" transform="translate(37 11.4)">Land use change, REF vs. 50% in 2050</text>
<text font-size="11.25" fill="#000" text-anchor="start" font-weight="bold" transform="translate(2 10.9)">a</text>
<line x1="36.67" x2="84.08" y1="201.57" y2="201.57" stroke="#EBEBEB" stroke-width="0.6"/>
<line x1="36.67" x2="84.08" y1="216.43" y2="216.43" stroke="#EBEBEB" stroke-width="0.6"/>
<line x1="36.67" x2="84.08" y1="231.28" y2="231.28" stroke="#EBEBEB" stroke-width="0.6"/>
<line x1="36.67" x2="84.08" y1="246.12" y2="246.12" stroke="#EBEBEB" stroke-width="0.6"/>
<line x1="36.67" x2="84.08" y1="194.15" y2="194.15" stroke="#EBEBEB" stroke-width="0.9"/>
<line x1="36.67" x2="84.08" y1="209" y2="209" stroke="#EBEBEB" stroke-width="0.9"/>
<line x1="36.67" x2="84.08" y1="223.85" y2="223.85" stroke="#EBEBEB" stroke-width="0.9"/>
<line x1="36.67" x2="84.08" y1="238.7" y2="238.7" stroke="#EBEBEB" stroke-width="0.9"/>
<line x1="36.67" x2="84.08" y1="253.55" y2="253.55" stroke="#EBEBEB" stroke-width="0.9"/>
<line x1="49.6" x2="49.6" y1="192.9" y2="256.4" stroke="#EBEBEB" stroke-width="0.9"/>
<line x1="71.15" x2="71.15" y1="192.9" y2="256.4" stroke="#EBEBEB" stroke-width="0.9"/>
<text font-size="9.0" fill="#1A1A1A" stroke="#1A1A1A" stroke-width="0.08" text-anchor="middle" transform="translate(60.37 189) scale(1 1.04)">ANZ</text>
<text font-size="11.25" fill="#4D4D4D" stroke="#4D4D4D" stroke-width="0.20" text-anchor="end" transform="translate(53.6 259.9) rotate(-90) scale(1 1.04)">REF</text>
<text font-size="11.25" fill="#4D4D4D" stroke="#4D4D4D" stroke-width="0.20" text-anchor="end" transform="translate(75.15 259.9) rotate(-90) scale(1 1.015)">50%</text>
<line x1="86.78" x2="134.19" y1="201.57" y2="201.57" stroke="#EBEBEB" stroke-width="0.6"/>
<line x1="86.78" x2="134.19" y1="216.43" y2="216.43" stroke="#EBEBEB" stroke-width="0.6"/>
<line x1="86.78" x2="134.19" y1="231.28" y2="231.28" stroke="#EBEBEB" stroke-width="0.6"/>
<line x1="86.78" x2="134.19" y1="246.12" y2="246.12" stroke="#EBEBEB" stroke-width="0.6"/>
<line x1="86.78" x2="134.19" y1="194.15" y2="194.15" stroke="#EBEBEB" stroke-width="0.9"/>
<line x1="86.78" x2="134.19" y1="209" y2="209" stroke="#EBEBEB" stroke-width="0.9"/>
<line x1="86.78" x2="134.19" y1="223.85" y2="223.85" stroke="#EBEBEB" stroke-width="0.9"/>
<line x1="86.78" x2="134.19" y1="238.7" y2="238.7" stroke="#EBEBEB" stroke-width="0.9"/>
<line x1="86.78" x2="134.19" y1="253.55" y2="253.55" stroke="#EBEBEB" stroke-width="0.9"/>
<line x1="99.71" x2="99.71" y1="192.9" y2="256.4" stroke="#EBEBEB" stroke-width="0.9"/>
<line x1="121.26" x2="121.26" y1="192.9" y2="256.4" stroke="#EBEBEB" stroke-width="0.9"/>
<text font-size="9.0" fill="#1A1A1A" stroke="#1A1A1A" stroke-width="0.08" text-anchor="middle" transform="translate(110.48 189) scale(1 1.04)">USA</text>
<text font-size="11.25" fill="#4D4D4D" stroke="#4D4D4D" stroke-width="0.20" text-anchor="end" transform="translate(103.71 259.9) rotate(-90) scale(1 1.04)">REF</text>
<text font-size="11.25" fill="#4D4D4D" stroke="#4D4D4D" stroke-width="0.20" text-anchor="end" transform="translate(125.26 259.9) rotate(-90) scale(1 1.015)">50%</text>
<line x1="136.89" x2="184.3" y1="201.57" y2="201.57" stroke="#EBEBEB" stroke-width="0.6"/>
<line x1="136.89" x2="184.3" y1="216.43" y2="216.43" stroke="#EBEBEB" stroke-width="0.6"/>
<line x1="136.89" x2="184.3" y1="231.28" y2="231.28" stroke="#EBEBEB" stroke-width="0.6"/>
<line x1="136.89" x2="184.3" y1="246.12" y2="246.12" stroke="#EBEBEB" stroke-width="0.6"/>
<line x1="136.89" x2="184.3" y1="194.15" y2="194.15" stroke="#EBEBEB" stroke-width="0.9"/>
<line x1="136.89" x2="184.3" y1="209" y2="209" stroke="#EBEBEB" stroke-width="0.9"/>
<line x1="136.89" x2="184.3" y1="223.85" y2="223.85" stroke="#EBEBEB" stroke-width="0.9"/>
<line x1="136.89" x2="184.3" y1="238.7" y2="238.7" stroke="#EBEBEB" stroke-width="0.9"/>
<line x1="136.89" x2="184.3" y1="253.55" y2="253.55" stroke="#EBEBEB" stroke-width="0.9"/>
<line x1="149.82" x2="149.82" y1="192.9" y2="256.4" stroke="#EBEBEB" stroke-width="0.9"/>
<line x1="171.37" x2="171.37" y1="192.9" y2="256.4" stroke="#EBEBEB" stroke-width="0.9"/>
<text font-size="9.0" fill="#1A1A1A" stroke="#1A1A1A" stroke-width="0.08" text-anchor="middle" transform="translate(160.59 189) scale(1 1.04)">FSU</text>
<text font-size="11.25" fill="#4D4D4D" stroke="#4D4D4D" stroke-width="0.20" text-anchor="end" transform="translate(153.82 259.9) rotate(-90) scale(1 1.04)">REF</text>
<text font-size="11.25" fill="#4D4D4D" stroke="#4D4D4D" stroke-width="0.20" text-anchor="end" transform="translate(175.37 259.9) rotate(-90) scale(1 1.015)">50%</text>
<line x1="187" x2="234.41" y1="201.57" y2="201.57" stroke="#EBEBEB" stroke-width="0.6"/>
<line x1="187" x2="234.41" y1="216.43" y2="216.43" stroke="#EBEBEB" stroke-width="0.6"/>
<line x1="187" x2="234.41" y1="231.28" y2="231.28" stroke="#EBEBEB" stroke-width="0.6"/>
<line x1="187" x2="234.41" y1="246.12" y2="246.12" stroke="#EBEBEB" stroke-width="0.6"/>
<line x1="187" x2="234.41" y1="194.15" y2="194.15" stroke="#EBEBEB" stroke-width="0.9"/>
<line x1="187" x2="234.41" y1="209" y2="209" stroke="#EBEBEB" stroke-width="0.9"/>
<line x1="187" x2="234.41" y1="223.85" y2="223.85" stroke="#EBEBEB" stroke-width="0.9"/>
<line x1="187" x2="234.41" y1="238.7" y2="238.7" stroke="#EBEBEB" stroke-width="0.9"/>
<line x1="187" x2="234.41" y1="253.55" y2="253.55" stroke="#EBEBEB" stroke-width="0.9"/>
<line x1="199.93" x2="199.93" y1="192.9" y2="256.4" stroke="#EBEBEB" stroke-width="0.9"/>
<line x1="221.48" x2="221.48" y1="192.9" y2="256.4" stroke="#EBEBEB" stroke-width="0.9"/>
<text font-size="9.0" fill="#1A1A1A" stroke="#1A1A1A" stroke-width="0.08" text-anchor="middle" transform="translate(210.7 189) scale(1 1.04)">BRA</text>
<text font-size="11.25" fill="#4D4D4D" stroke="#4D4D4D" stroke-width="0.20" text-anchor="end" transform="translate(203.93 259.9) rotate(-90) scale(1 1.04)">REF</text>
<text font-size="11.25" fill="#4D4D4D" stroke="#4D4D4D" stroke-width="0.20" text-anchor="end" transform="translate(225.48 259.9) rotate(-90) scale(1 1.015)">50%</text>
<line x1="237.11" x2="284.52" y1="201.57" y2="201.57" stroke="#EBEBEB" stroke-width="0.6"/>
<line x1="237.11" x2="284.52" y1="216.43" y2="216.43" stroke="#EBEBEB" stroke-width="0.6"/>
<line x1="237.11" x2="284.52" y1="231.28" y2="231.28" stroke="#EBEBEB" stroke-width="0.6"/>
<line x1="237.11" x2="284.52" y1="246.12" y2="246.12" stroke="#EBEBEB" stroke-width="0.6"/>
<line x1="237.11" x2="284.52" y1="194.15" y2="194.15" stroke="#EBEBEB" stroke-width="0.9"/>
<line x1="237.11" x2="284.52" y1="209" y2="209" stroke="#EBEBEB" stroke-width="0.9"/>
<line x1="237.11" x2="284.52" y1="223.85" y2="223.85" stroke="#EBEBEB" stroke-width="0.9"/>
<line x1="237.11" x2="284.52" y1="238.7" y2="238.7" stroke="#EBEBEB" stroke-width="0.9"/>
<line x1="237.11" x2="284.52" y1="253.55" y2="253.55" stroke="#EBEBEB" stroke-width="0.9"/>
<line x1="250.04" x2="250.04" y1="192.9" y2="256.4" stroke="#EBEBEB" stroke-width="0.9"/>
<line x1="271.59" x2="271.59" y1="192.9" y2="256.4" stroke="#EBEBEB" stroke-width="0.9"/>
<text font-size="9.0" fill="#1A1A1A" stroke="#1A1A1A" stroke-width="0.08" text-anchor="middle" transform="translate(260.81 189) scale(1 1.04)">CAN</text>
<text font-size="11.25" fill="#4D4D4D" stroke="#4D4D4D" stroke-width="0.20" text-anchor="end" transform="translate(254.04 259.9) rotate(-90) scale(1 1.04)">REF</text>
<text font-size="11.25" fill="#4D4D4D" stroke="#4D4D4D" stroke-width="0.20" text-anchor="end" transform="translate(275.59 259.9) rotate(-90) scale(1 1.015)">50%</text>
<line x1="287.22" x2="334.63" y1="201.57" y2="201.57" stroke="#EBEBEB" stroke-width="0.6"/>
<line x1="287.22" x2="334.63" y1="216.43" y2="216.43" stroke="#EBEBEB" stroke-width="0.6"/>
<line x1="287.22" x2="334.63" y1="231.28" y2="231.28" stroke="#EBEBEB" stroke-width="0.6"/>
<line x1="287.22" x2="334.63" y1="246.12" y2="246.12" stroke="#EBEBEB" stroke-width="0.6"/>
<line x1="287.22" x2="334.63" y1="194.15" y2="194.15" stroke="#EBEBEB" stroke-width="0.9"/>
<line x1="287.22" x2="334.63" y1="209" y2="209" stroke="#EBEBEB" stroke-width="0.9"/>
<line x1="287.22" x2="334.63" y1="223.85" y2="223.85" stroke="#EBEBEB" stroke-width="0.9"/>
<line x1="287.22" x2="334.63" y1="238.7" y2="238.7" stroke="#EBEBEB" stroke-width="0.9"/>
<line x1="287.22" x2="334.63" y1="253.55" y2="253.55" stroke="#EBEBEB" stroke-width="0.9"/>
<line x1="300.15" x2="300.15" y1="192.9" y2="256.4" stroke="#EBEBEB" stroke-width="0.9"/>
<line x1="321.7" x2="321.7" y1="192.9" y2="256.4" stroke="#EBEBEB" stroke-width="0.9"/>
<text font-size="9.0" fill="#1A1A1A" stroke="#1A1A1A" stroke-width="0.08" text-anchor="middle" transform="translate(310.92 189) scale(1 1.04)">CHN</text>
<text font-size="11.25" fill="#4D4D4D" stroke="#4D4D4D" stroke-width="0.20" text-anchor="end" transform="translate(304.15 259.9) rotate(-90) scale(1 1.04)">REF</text>
<text font-size="11.25" fill="#4D4D4D" stroke="#4D4D4D" stroke-width="0.20" text-anchor="end" transform="translate(325.7 259.9) rotate(-90) scale(1 1.015)">50%</text>
<line x1="337.33" x2="384.74" y1="201.57" y2="201.57" stroke="#EBEBEB" stroke-width="0.6"/>
<line x1="337.33" x2="384.74" y1="216.43" y2="216.43" stroke="#EBEBEB" stroke-width="0.6"/>
<line x1="337.33" x2="384.74" y1="231.28" y2="231.28" stroke="#EBEBEB" stroke-width="0.6"/>
<line x1="337.33" x2="384.74" y1="246.12" y2="246.12" stroke="#EBEBEB" stroke-width="0.6"/>
<line x1="337.33" x2="384.74" y1="194.15" y2="194.15" stroke="#EBEBEB" stroke-width="0.9"/>
<line x1="337.33" x2="384.74" y1="209" y2="209" stroke="#EBEBEB" stroke-width="0.9"/>
<line x1="337.33" x2="384.74" y1="223.85" y2="223.85" stroke="#EBEBEB" stroke-width="0.9"/>
<line x1="337.33" x2="384.74" y1="238.7" y2="238.7" stroke="#EBEBEB" stroke-width="0.9"/>
<line x1="337.33" x2="384.74" y1="253.55" y2="253.55" stroke="#EBEBEB" stroke-width="0.9"/>
<line x1="350.26" x2="350.26" y1="192.9" y2="256.4" stroke="#EBEBEB" stroke-width="0.9"/>
<line x1="371.81" x2="371.81" y1="192.9" y2="256.4" stroke="#EBEBEB" stroke-width="0.9"/>
<text font-size="9.0" fill="#1A1A1A" stroke="#1A1A1A" stroke-width="0.08" text-anchor="middle" transform="translate(361.03 189) scale(1 1.04)">IND</text>
<text font-size="11.25" fill="#4D4D4D" stroke="#4D4D4D" stroke-width="0.20" text-anchor="end" transform="translate(354.26 259.9) rotate(-90) scale(1 1.04)">REF</text>
<text font-size="11.25" fill="#4D4D4D" stroke="#4D4D4D" stroke-width="0.20" text-anchor="end" transform="translate(375.81 259.9) rotate(-90) scale(1 1.015)">50%</text>
<line x1="387.44" x2="434.85" y1="201.57" y2="201.57" stroke="#EBEBEB" stroke-width="0.6"/>
<line x1="387.44" x2="434.85" y1="216.43" y2="216.43" stroke="#EBEBEB" stroke-width="0.6"/>
<line x1="387.44" x2="434.85" y1="231.28" y2="231.28" stroke="#EBEBEB" stroke-width="0.6"/>
<line x1="387.44" x2="434.85" y1="246.12" y2="246.12" stroke="#EBEBEB" stroke-width="0.6"/>
<line x1="387.44" x2="434.85" y1="194.15" y2="194.15" stroke="#EBEBEB" stroke-width="0.9"/>
<line x1="387.44" x2="434.85" y1="209" y2="209" stroke="#EBEBEB" stroke-width="0.9"/>
<line x1="387.44" x2="434.85" y1="223.85" y2="223.85" stroke="#EBEBEB" stroke-width="0.9"/>
<line x1="387.44" x2="434.85" y1="238.7" y2="238.7" stroke="#EBEBEB" stroke-width="0.9"/>
<line x1="387.44" x2="434.85" y1="253.55" y2="253.55" stroke="#EBEBEB" stroke-width="0.9"/>
<line x1="400.37" x2="400.37" y1="192.9" y2="256.4" stroke="#EBEBEB" stroke-width="0.9"/>
<line x1="421.92" x2="421.92" y1="192.9" y2="256.4" stroke="#EBEBEB" stroke-width="0.9"/>
<text font-size="9.0" fill="#1A1A1A" stroke="#1A1A1A" stroke-width="0.08" text-anchor="middle" transform="translate(411.14 189) scale(1 1.04)">OSA</text>
<text font-size="11.25" fill="#4D4D4D" stroke="#4D4D4D" stroke-width="0.20" text-anchor="end" transform="translate(404.37 259.9) rotate(-90) scale(1 1.04)">REF</text>
<text font-size="11.25" fill="#4D4D4D" stroke="#4D4D4D" stroke-width="0.20" text-anchor="end" transform="translate(425.92 259.9) rotate(-90) scale(1 1.015)">50%</text>
<line x1="437.55" x2="484.96" y1="201.57" y2="201.57" stroke="#EBEBEB" stroke-width="0.6"/>
<line x1="437.55" x2="484.96" y1="216.43" y2="216.43" stroke="#EBEBEB" stroke-width="0.6"/>
<line x1="437.55" x2="484.96" y1="231.28" y2="231.28" stroke="#EBEBEB" stroke-width="0.6"/>
<line x1="437.55" x2="484.96" y1="246.12" y2="246.12" stroke="#EBEBEB" stroke-width="0.6"/>
<line x1="437.55" x2="484.96" y1="194.15" y2="194.15" stroke="#EBEBEB" stroke-width="0.9"/>
<line x1="437.55" x2="484.96" y1="209" y2="209" stroke="#EBEBEB" stroke-width="0.9"/>
<line x1="437.55" x2="484.96" y1="223.85" y2="223.85" stroke="#EBEBEB" stroke-width="0.9"/>
<line x1="437.55" x2="484.96" y1="238.7" y2="238.7" stroke="#EBEBEB" stroke-width="0.9"/>
<line x1="437.55" x2="484.96" y1="253.55" y2="253.55" stroke="#EBEBEB" stroke-width="0.9"/>
<line x1="450.48" x2="450.48" y1="192.9" y2="256.4" stroke="#EBEBEB" stroke-width="0.9"/>
<line x1="472.03" x2="472.03" y1="192.9" y2="256.4" stroke="#EBEBEB" stroke-width="0.9"/>
<text font-size="9.0" fill="#1A1A1A" stroke="#1A1A1A" stroke-width="0.08" text-anchor="middle" transform="translate(461.25 189) scale(1 1.04)">EUR</text>
<text font-size="11.25" fill="#4D4D4D" stroke="#4D4D4D" stroke-width="0.20" text-anchor="end" transform="translate(454.48 259.9) rotate(-90) scale(1 1.04)">REF</text>
<text font-size="11.25" fill="#4D4D4D" stroke="#4D4D4D" stroke-width="0.20" text-anchor="end" transform="translate(476.03 259.9) rotate(-90) scale(1 1.015)">50%</text>
<line x1="487.66" x2="535.07" y1="201.57" y2="201.57" stroke="#EBEBEB" stroke-width="0.6"/>
<line x1="487.66" x2="535.07" y1="216.43" y2="216.43" stroke="#EBEBEB" stroke-width="0.6"/>
<line x1="487.66" x2="535.07" y1="231.28" y2="231.28" stroke="#EBEBEB" stroke-width="0.6"/>
<line x1="487.66" x2="535.07" y1="246.12" y2="246.12" stroke="#EBEBEB" stroke-width="0.6"/>
<line x1="487.66" x2="535.07" y1="194.15" y2="194.15" stroke="#EBEBEB" stroke-width="0.9"/>
<line x1="487.66" x2="535.07" y1="209" y2="209" stroke="#EBEBEB" stroke-width="0.9"/>
<line x1="487.66" x2="535.07" y1="223.85" y2="223.85" stroke="#EBEBEB" stroke-width="0.9"/>
<line x1="487.66" x2="535.07" y1="238.7" y2="238.7" stroke="#EBEBEB" stroke-width="0.9"/>
<line x1="487.66" x2="535.07" y1="253.55" y2="253.55" stroke="#EBEBEB" stroke-width="0.9"/>
<line x1="500.59" x2="500.59" y1="192.9" y2="256.4" stroke="#EBEBEB" stroke-width="0.9"/>
<line x1="522.14" x2="522.14" y1="192.9" y2="256.4" stroke="#EBEBEB" stroke-width="0.9"/>
<text font-size="9.0" fill="#1A1A1A" stroke="#1A1A1A" stroke-width="0.08" text-anchor="middle" transform="translate(511.36 189) scale(1 1.04)">MEN</text>
<text font-size="11.25" fill="#4D4D4D" stroke="#4D4D4D" stroke-width="0.20" text-anchor="end" transform="translate(504.59 259.9) rotate(-90) scale(1 1.04)">REF</text>
<text font-size="11.25" fill="#4D4D4D" stroke="#4D4D4D" stroke-width="0.20" text-anchor="end" transform="translate(526.14 259.9) rotate(-90) scale(1 1.015)">50%</text>
<line x1="537.77" x2="585.18" y1="201.57" y2="201.57" stroke="#EBEBEB" stroke-width="0.6"/>
<line x1="537.77" x2="585.18" y1="216.43" y2="216.43" stroke="#EBEBEB" stroke-width="0.6"/>
<line x1="537.77" x2="585.18" y1="231.28" y2="231.28" stroke="#EBEBEB" stroke-width="0.6"/>
<line x1="537.77" x2="585.18" y1="246.12" y2="246.12" stroke="#EBEBEB" stroke-width="0.6"/>
<line x1="537.77" x2="585.18" y1="194.15" y2="194.15" stroke="#EBEBEB" stroke-width="0.9"/>
<line x1="537.77" x2="585.18" y1="209" y2="209" stroke="#EBEBEB" stroke-width="0.9"/>
<line x1="537.77" x2="585.18" y1="223.85" y2="223.85" stroke="#EBEBEB" stroke-width="0.9"/>
<line x1="537.77" x2="585.18" y1="238.7" y2="238.7" stroke="#EBEBEB" stroke-width="0.9"/>
<line x1="537.77" x2="585.18" y1="253.55" y2="253.55" stroke="#EBEBEB" stroke-width="0.9"/>
<line x1="550.7" x2="550.7" y1="192.9" y2="256.4" stroke="#EBEBEB" stroke-width="0.9"/>
<line x1="572.25" x2="572.25" y1="192.9" y2="256.4" stroke="#EBEBEB" stroke-width="0.9"/>
<text font-size="9.0" fill="#1A1A1A" stroke="#1A1A1A" stroke-width="0.08" text-anchor="middle" transform="translate(561.47 189) scale(1 1.04)">SSA</text>
<text font-size="11.25" fill="#4D4D4D" stroke="#4D4D4D" stroke-width="0.20" text-anchor="end" transform="translate(554.7 259.9) rotate(-90) scale(1 1.04)">REF</text>
<text font-size="11.25" fill="#4D4D4D" stroke="#4D4D4D" stroke-width="0.20" text-anchor="end" transform="translate(576.25 259.9) rotate(-90) scale(1 1.015)">50%</text>
<line x1="587.88" x2="635.29" y1="201.57" y2="201.57" stroke="#EBEBEB" stroke-width="0.6"/>
<line x1="587.88" x2="635.29" y1="216.43" y2="216.43" stroke="#EBEBEB" stroke-width="0.6"/>
<line x1="587.88" x2="635.29" y1="231.28" y2="231.28" stroke="#EBEBEB" stroke-width="0.6"/>
<line x1="587.88" x2="635.29" y1="246.12" y2="246.12" stroke="#EBEBEB" stroke-width="0.6"/>
<line x1="587.88" x2="635.29" y1="194.15" y2="194.15" stroke="#EBEBEB" stroke-width="0.9"/>
<line x1="587.88" x2="635.29" y1="209" y2="209" stroke="#EBEBEB" stroke-width="0.9"/>
<line x1="587.88" x2="635.29" y1="223.85" y2="223.85" stroke="#EBEBEB" stroke-width="0.9"/>
<line x1="587.88" x2="635.29" y1="238.7" y2="238.7" stroke="#EBEBEB" stroke-width="0.9"/>
<line x1="587.88" x2="635.29" y1="253.55" y2="253.55" stroke="#EBEBEB" stroke-width="0.9"/>
<line x1="600.81" x2="600.81" y1="192.9" y2="256.4" stroke="#EBEBEB" stroke-width="0.9"/>
<line x1="622.36" x2="622.36" y1="192.9" y2="256.4" stroke="#EBEBEB" stroke-width="0.9"/>
<text font-size="9.0" fill="#1A1A1A" stroke="#1A1A1A" stroke-width="0.08" text-anchor="middle" transform="translate(611.58 189) scale(1 1.04)">SEA</text>
<text font-size="11.25" fill="#4D4D4D" stroke="#4D4D4D" stroke-width="0.20" text-anchor="end" transform="translate(604.81 259.9) rotate(-90) scale(1 1.04)">REF</text>
<text font-size="11.25" fill="#4D4D4D" stroke="#4D4D4D" stroke-width="0.20" text-anchor="end" transform="translate(626.36 259.9) rotate(-90) scale(1 1.015)">50%</text>
<line x1="637.99" x2="685.4" y1="201.57" y2="201.57" stroke="#EBEBEB" stroke-width="0.6"/>
<line x1="637.99" x2="685.4" y1="216.43" y2="216.43" stroke="#EBEBEB" stroke-width="0.6"/>
<line x1="637.99" x2="685.4" y1="231.28" y2="231.28" stroke="#EBEBEB" stroke-width="0.6"/>
<line x1="637.99" x2="685.4" y1="246.12" y2="246.12" stroke="#EBEBEB" stroke-width="0.6"/>
<line x1="637.99" x2="685.4" y1="194.15" y2="194.15" stroke="#EBEBEB" stroke-width="0.9"/>
<line x1="637.99" x2="685.4" y1="209" y2="209" stroke="#EBEBEB" stroke-width="0.9"/>
<line x1="637.99" x2="685.4" y1="223.85" y2="223.85" stroke="#EBEBEB" stroke-width="0.9"/>
<line x1="637.99" x2="685.4" y1="238.7" y2="238.7" stroke="#EBEBEB" stroke-width="0.9"/>
<line x1="637.99" x2="685.4" y1="253.55" y2="253.55" stroke="#EBEBEB" stroke-width="0.9"/>
<line x1="650.92" x2="650.92" y1="192.9" y2="256.4" stroke="#EBEBEB" stroke-width="0.9"/>
<line x1="672.47" x2="672.47" y1="192.9" y2="256.4" stroke="#EBEBEB" stroke-width="0.9"/>
<text font-size="9.0" fill="#1A1A1A" stroke="#1A1A1A" stroke-width="0.08" text-anchor="middle" transform="translate(661.69 189) scale(1 1.04)">OAS</text>
<text font-size="11.25" fill="#4D4D4D" stroke="#4D4D4D" stroke-width="0.20" text-anchor="end" transform="translate(654.92 259.9) rotate(-90) scale(1 1.04)">REF</text>
<text font-size="11.25" fill="#4D4D4D" stroke="#4D4D4D" stroke-width="0.20" text-anchor="end" transform="translate(676.47 259.9) rotate(-90) scale(1 1.015)">50%</text>
<rect x="39.9" y="208.2" width="19.39" height="1.3" fill="#A6DBA0"/>
<rect x="39.9" y="209" width="19.39" height="1.9" fill="#C2A5CF"/>
<rect x="61.46" y="209" width="19.39" height="1.5" fill="#008837"/>
<rect x="61.46" y="210" width="19.39" height="1.1" fill="#A6DBA0"/>
<rect x="61.46" y="210.6" width="19.39" height="5.4" fill="#7B3294"/>
<rect x="90.01" y="206.4" width="19.39" height="1.3" fill="#C2A5CF"/>
<rect x="90.01" y="207.2" width="19.39" height="1.8" fill="#008837"/>
<rect x="111.57" y="209" width="19.39" height="1.5" fill="#008837"/>
<rect x="111.57" y="210" width="19.39" height="3.1" fill="#A6DBA0"/>
<rect x="111.57" y="212.6" width="19.39" height="0.8" fill="#C2A5CF"/>
<rect x="111.57" y="212.9" width="19.39" height="4.8" fill="#7B3294"/>
<rect x="140.12" y="207.8" width="19.39" height="1.4" fill="#008837"/>
<rect x="161.68" y="209" width="19.39" height="2.4" fill="#A6DBA0"/>
<rect x="161.68" y="210.9" width="19.39" height="0.8" fill="#C2A5CF"/>
<rect x="161.68" y="211.2" width="19.39" height="3.6" fill="#7B3294"/>
<rect x="190.23" y="207.8" width="19.39" height="1.2" fill="#008837"/>
<rect x="190.23" y="209.3" width="19.39" height="7.4" fill="#C2A5CF"/>
<rect x="211.79" y="209" width="19.39" height="1.9" fill="#008837"/>
<rect x="211.79" y="210.4" width="19.39" height="4.6" fill="#A6DBA0"/>
<rect x="211.79" y="214.5" width="19.39" height="9.9" fill="#C2A5CF"/>
<rect x="211.79" y="223.9" width="19.39" height="24.9" fill="#7B3294"/>
<rect x="240.34" y="208.8" width="19.39" height="0.9" fill="#A6DBA0"/>
<rect x="240.34" y="209.2" width="19.39" height="0.7" fill="#C2A5CF"/>
<rect x="261.9" y="209" width="19.39" height="1.3" fill="#A6DBA0"/>
<rect x="261.9" y="209.8" width="19.39" height="0.9" fill="#C2A5CF"/>
<rect x="290.45" y="196.1" width="19.39" height="9.9" fill="#A6DBA0"/>
<rect x="290.45" y="205.5" width="19.39" height="3.4" fill="#008837"/>
<rect x="290.45" y="209.2" width="19.39" height="1.5" fill="#C2A5CF"/>
<rect x="290.45" y="210.2" width="19.39" height="1.6" fill="#7B3294"/>
<rect x="312.01" y="209" width="19.39" height="2.5" fill="#008837"/>
<rect x="312.01" y="211" width="19.39" height="3.5" fill="#C2A5CF"/>
<rect x="312.01" y="214" width="19.39" height="5.1" fill="#7B3294"/>
<rect x="340.56" y="204.3" width="19.39" height="1.5" fill="#C2A5CF"/>
<rect x="340.56" y="205.3" width="19.39" height="2" fill="#A6DBA0"/>
<rect x="340.56" y="206.8" width="19.39" height="2.2" fill="#008837"/>
<rect x="362.12" y="208.6" width="19.39" height="1.7" fill="#008837"/>
<rect x="362.12" y="209.8" width="19.39" height="2.6" fill="#A6DBA0"/>
<rect x="362.12" y="211.9" width="19.39" height="1.9" fill="#7B3294"/>
<rect x="390.67" y="205" width="19.39" height="2.7" fill="#A6DBA0"/>
<rect x="390.67" y="207.2" width="19.39" height="2.3" fill="#008837"/>
<rect x="390.67" y="209" width="19.39" height="5.3" fill="#C2A5CF"/>
<rect x="390.67" y="213.8" width="19.39" height="1.3" fill="#7B3294"/>
<rect x="412.23" y="209" width="19.39" height="1.5" fill="#008837"/>
<rect x="412.23" y="210" width="19.39" height="3.4" fill="#A6DBA0"/>
<rect x="412.23" y="212.9" width="19.39" height="8" fill="#C2A5CF"/>
<rect x="412.23" y="220.4" width="19.39" height="13" fill="#7B3294"/>
<rect x="440.78" y="205" width="19.39" height="1.5" fill="#C2A5CF"/>
<rect x="440.78" y="206" width="19.39" height="2" fill="#A6DBA0"/>
<rect x="440.78" y="207.5" width="19.39" height="1.5" fill="#008837"/>
<rect x="462.34" y="209" width="19.39" height="1.9" fill="#008837"/>
<rect x="462.34" y="210.4" width="19.39" height="3.5" fill="#A6DBA0"/>
<rect x="462.34" y="213.4" width="19.39" height="0.9" fill="#C2A5CF"/>
<rect x="462.34" y="213.8" width="19.39" height="3.9" fill="#7B3294"/>
<rect x="490.89" y="207.2" width="19.39" height="1.9" fill="#008837"/>
<rect x="512.45" y="208.3" width="19.39" height="1.9" fill="#B9D9C3"/>
<rect x="512.45" y="209.7" width="19.39" height="1.1" fill="#9A5DAE"/>
<rect x="541" y="206.1" width="19.39" height="1.9" fill="#A6DBA0"/>
<rect x="541" y="207.5" width="19.39" height="1.5" fill="#008837"/>
<rect x="541" y="209.3" width="19.39" height="1.6" fill="#9A5DAE"/>
<rect x="562.56" y="209" width="19.39" height="1.2" fill="#008837"/>
<rect x="562.56" y="209.7" width="19.39" height="2" fill="#A6DBA0"/>
<rect x="562.56" y="211.2" width="19.39" height="11.4" fill="#C2A5CF"/>
<rect x="562.56" y="222.1" width="19.39" height="31.7" fill="#7B3294"/>
<rect x="591.11" y="203.9" width="19.39" height="3.4" fill="#A6DBA0"/>
<rect x="591.11" y="206.8" width="19.39" height="2.7" fill="#008837"/>
<rect x="591.11" y="209" width="19.39" height="0.7" fill="#7B3294"/>
<rect x="612.67" y="209" width="19.39" height="1.3" fill="#A6DBA0"/>
<rect x="612.67" y="209.8" width="19.39" height="4.4" fill="#C2A5CF"/>
<rect x="612.67" y="213.7" width="19.39" height="3.9" fill="#7B3294"/>
<rect x="641.22" y="207.8" width="19.39" height="1.4" fill="#008837"/>
<rect x="662.78" y="208.7" width="19.39" height="1.6" fill="#A6DBA0"/>
<rect x="662.78" y="209.8" width="19.39" height="1.9" fill="#A66BBA"/>
<text font-size="9.0" fill="#4D4D4D" stroke="#4D4D4D" stroke-width="0.08" text-anchor="end" transform="translate(34.42 197.75)">0.5</text>
<text font-size="9.0" fill="#4D4D4D" stroke="#4D4D4D" stroke-width="0.08" text-anchor="end" transform="translate(34.42 212.6)">0.0</text>
<text font-size="9.0" fill="#4D4D4D" stroke="#4D4D4D" stroke-width="0.08" text-anchor="end" transform="translate(34.42 227.45)">−0.5</text>
<text font-size="9.0" fill="#4D4D4D" stroke="#4D4D4D" stroke-width="0.08" text-anchor="end" transform="translate(34.42 242.3)">−1.0</text>
<text font-size="9.0" fill="#4D4D4D" stroke="#4D4D4D" stroke-width="0.08" text-anchor="end" transform="translate(34.42 257.15)">−1.5</text>
<text font-size="13.5" fill="#000" stroke="#000" stroke-width="0.20" text-anchor="start" transform="translate(37 173.8)">GHG emissions, REF vs. 50% in 2050</text>
<text font-size="11.25" fill="#000" text-anchor="start" font-weight="bold" transform="translate(2 173)">b</text>
<line x1="39.84" x2="87" y1="357.2" y2="357.2" stroke="#EBEBEB" stroke-width="0.6"/>
<line x1="39.84" x2="87" y1="372.44" y2="372.44" stroke="#EBEBEB" stroke-width="0.6"/>
<line x1="39.84" x2="87" y1="387.68" y2="387.68" stroke="#EBEBEB" stroke-width="0.6"/>
<line x1="39.84" x2="87" y1="402.92" y2="402.92" stroke="#EBEBEB" stroke-width="0.6"/>
<line x1="39.84" x2="87" y1="418.16" y2="418.16" stroke="#EBEBEB" stroke-width="0.6"/>
<line x1="39.84" x2="87" y1="433.4" y2="433.4" stroke="#EBEBEB" stroke-width="0.6"/>
<line x1="39.84" x2="87" y1="364.82" y2="364.82" stroke="#EBEBEB" stroke-width="0.9"/>
<line x1="39.84" x2="87" y1="380.06" y2="380.06" stroke="#EBEBEB" stroke-width="0.9"/>
<line x1="39.84" x2="87" y1="395.3" y2="395.3" stroke="#EBEBEB" stroke-width="0.9"/>
<line x1="39.84" x2="87" y1="410.54" y2="410.54" stroke="#EBEBEB" stroke-width="0.9"/>
<line x1="39.84" x2="87" y1="425.78" y2="425.78" stroke="#EBEBEB" stroke-width="0.9"/>
<line x1="39.84" x2="87" y1="441.02" y2="441.02" stroke="#EBEBEB" stroke-width="0.9"/>
<line x1="52.7" x2="52.7" y1="355.2" y2="444.6" stroke="#EBEBEB" stroke-width="0.9"/>
<line x1="74.14" x2="74.14" y1="355.2" y2="444.6" stroke="#EBEBEB" stroke-width="0.9"/>
<text font-size="9.0" fill="#1A1A1A" stroke="#1A1A1A" stroke-width="0.08" text-anchor="middle" transform="translate(63.42 351.4) scale(1 1.04)">ANZ</text>
<text font-size="11.25" fill="#4D4D4D" stroke="#4D4D4D" stroke-width="0.20" text-anchor="end" transform="translate(56.7 448) rotate(-90) scale(1 1.04)">REF</text>
<text font-size="11.25" fill="#4D4D4D" stroke="#4D4D4D" stroke-width="0.20" text-anchor="end" transform="translate(78.14 448) rotate(-90) scale(1 1.015)">50%</text>
<line x1="89.7" x2="136.87" y1="357.2" y2="357.2" stroke="#EBEBEB" stroke-width="0.6"/>
<line x1="89.7" x2="136.87" y1="372.44" y2="372.44" stroke="#EBEBEB" stroke-width="0.6"/>
<line x1="89.7" x2="136.87" y1="387.68" y2="387.68" stroke="#EBEBEB" stroke-width="0.6"/>
<line x1="89.7" x2="136.87" y1="402.92" y2="402.92" stroke="#EBEBEB" stroke-width="0.6"/>
<line x1="89.7" x2="136.87" y1="418.16" y2="418.16" stroke="#EBEBEB" stroke-width="0.6"/>
<line x1="89.7" x2="136.87" y1="433.4" y2="433.4" stroke="#EBEBEB" stroke-width="0.6"/>
<line x1="89.7" x2="136.87" y1="364.82" y2="364.82" stroke="#EBEBEB" stroke-width="0.9"/>
<line x1="89.7" x2="136.87" y1="380.06" y2="380.06" stroke="#EBEBEB" stroke-width="0.9"/>
<line x1="89.7" x2="136.87" y1="395.3" y2="395.3" stroke="#EBEBEB" stroke-width="0.9"/>
<line x1="89.7" x2="136.87" y1="410.54" y2="410.54" stroke="#EBEBEB" stroke-width="0.9"/>
<line x1="89.7" x2="136.87" y1="425.78" y2="425.78" stroke="#EBEBEB" stroke-width="0.9"/>
<line x1="89.7" x2="136.87" y1="441.02" y2="441.02" stroke="#EBEBEB" stroke-width="0.9"/>
<line x1="102.56" x2="102.56" y1="355.2" y2="444.6" stroke="#EBEBEB" stroke-width="0.9"/>
<line x1="124.01" x2="124.01" y1="355.2" y2="444.6" stroke="#EBEBEB" stroke-width="0.9"/>
<text font-size="9.0" fill="#1A1A1A" stroke="#1A1A1A" stroke-width="0.08" text-anchor="middle" transform="translate(113.29 351.4) scale(1 1.04)">USA</text>
<text font-size="11.25" fill="#4D4D4D" stroke="#4D4D4D" stroke-width="0.20" text-anchor="end" transform="translate(106.56 448) rotate(-90) scale(1 1.04)">REF</text>
<text font-size="11.25" fill="#4D4D4D" stroke="#4D4D4D" stroke-width="0.20" text-anchor="end" transform="translate(128.01 448) rotate(-90) scale(1 1.015)">50%</text>
<line x1="139.57" x2="186.74" y1="357.2" y2="357.2" stroke="#EBEBEB" stroke-width="0.6"/>
<line x1="139.57" x2="186.74" y1="372.44" y2="372.44" stroke="#EBEBEB" stroke-width="0.6"/>
<line x1="139.57" x2="186.74" y1="387.68" y2="387.68" stroke="#EBEBEB" stroke-width="0.6"/>
<line x1="139.57" x2="186.74" y1="402.92" y2="402.92" stroke="#EBEBEB" stroke-width="0.6"/>
<line x1="139.57" x2="186.74" y1="418.16" y2="418.16" stroke="#EBEBEB" stroke-width="0.6"/>
<line x1="139.57" x2="186.74" y1="433.4" y2="433.4" stroke="#EBEBEB" stroke-width="0.6"/>
<line x1="139.57" x2="186.74" y1="364.82" y2="364.82" stroke="#EBEBEB" stroke-width="0.9"/>
<line x1="139.57" x2="186.74" y1="380.06" y2="380.06" stroke="#EBEBEB" stroke-width="0.9"/>
<line x1="139.57" x2="186.74" y1="395.3" y2="395.3" stroke="#EBEBEB" stroke-width="0.9"/>
<line x1="139.57" x2="186.74" y1="410.54" y2="410.54" stroke="#EBEBEB" stroke-width="0.9"/>
<line x1="139.57" x2="186.74" y1="425.78" y2="425.78" stroke="#EBEBEB" stroke-width="0.9"/>
<line x1="139.57" x2="186.74" y1="441.02" y2="441.02" stroke="#EBEBEB" stroke-width="0.9"/>
<line x1="152.43" x2="152.43" y1="355.2" y2="444.6" stroke="#EBEBEB" stroke-width="0.9"/>
<line x1="173.87" x2="173.87" y1="355.2" y2="444.6" stroke="#EBEBEB" stroke-width="0.9"/>
<text font-size="9.0" fill="#1A1A1A" stroke="#1A1A1A" stroke-width="0.08" text-anchor="middle" transform="translate(163.15 351.4) scale(1 1.04)">FSU</text>
<text font-size="11.25" fill="#4D4D4D" stroke="#4D4D4D" stroke-width="0.20" text-anchor="end" transform="translate(156.43 448) rotate(-90) scale(1 1.04)">REF</text>
<text font-size="11.25" fill="#4D4D4D" stroke="#4D4D4D" stroke-width="0.20" text-anchor="end" transform="translate(177.87 448) rotate(-90) scale(1 1.015)">50%</text>
<line x1="189.44" x2="236.6" y1="357.2" y2="357.2" stroke="#EBEBEB" stroke-width="0.6"/>
<line x1="189.44" x2="236.6" y1="372.44" y2="372.44" stroke="#EBEBEB" stroke-width="0.6"/>
<line x1="189.44" x2="236.6" y1="387.68" y2="387.68" stroke="#EBEBEB" stroke-width="0.6"/>
<line x1="189.44" x2="236.6" y1="402.92" y2="402.92" stroke="#EBEBEB" stroke-width="0.6"/>
<line x1="189.44" x2="236.6" y1="418.16" y2="418.16" stroke="#EBEBEB" stroke-width="0.6"/>
<line x1="189.44" x2="236.6" y1="433.4" y2="433.4" stroke="#EBEBEB" stroke-width="0.6"/>
<line x1="189.44" x2="236.6" y1="364.82" y2="364.82" stroke="#EBEBEB" stroke-width="0.9"/>
<line x1="189.44" x2="236.6" y1="380.06" y2="380.06" stroke="#EBEBEB" stroke-width="0.9"/>
<line x1="189.44" x2="236.6" y1="395.3" y2="395.3" stroke="#EBEBEB" stroke-width="0.9"/>
<line x1="189.44" x2="236.6" y1="410.54" y2="410.54" stroke="#EBEBEB" stroke-width="0.9"/>
<line x1="189.44" x2="236.6" y1="425.78" y2="425.78" stroke="#EBEBEB" stroke-width="0.9"/>
<line x1="189.44" x2="236.6" y1="441.02" y2="441.02" stroke="#EBEBEB" stroke-width="0.9"/>
<line x1="202.3" x2="202.3" y1="355.2" y2="444.6" stroke="#EBEBEB" stroke-width="0.9"/>
<line x1="223.74" x2="223.74" y1="355.2" y2="444.6" stroke="#EBEBEB" stroke-width="0.9"/>
<text font-size="9.0" fill="#1A1A1A" stroke="#1A1A1A" stroke-width="0.08" text-anchor="middle" transform="translate(213.02 351.4) scale(1 1.04)">BRA</text>
<text font-size="11.25" fill="#4D4D4D" stroke="#4D4D4D" stroke-width="0.20" text-anchor="end" transform="translate(206.3 448) rotate(-90) scale(1 1.04)">REF</text>
<text font-size="11.25" fill="#4D4D4D" stroke="#4D4D4D" stroke-width="0.20" text-anchor="end" transform="translate(227.74 448) rotate(-90) scale(1 1.015)">50%</text>
<line x1="239.3" x2="286.47" y1="357.2" y2="357.2" stroke="#EBEBEB" stroke-width="0.6"/>
<line x1="239.3" x2="286.47" y1="372.44" y2="372.44" stroke="#EBEBEB" stroke-width="0.6"/>
<line x1="239.3" x2="286.47" y1="387.68" y2="387.68" stroke="#EBEBEB" stroke-width="0.6"/>
<line x1="239.3" x2="286.47" y1="402.92" y2="402.92" stroke="#EBEBEB" stroke-width="0.6"/>
<line x1="239.3" x2="286.47" y1="418.16" y2="418.16" stroke="#EBEBEB" stroke-width="0.6"/>
<line x1="239.3" x2="286.47" y1="433.4" y2="433.4" stroke="#EBEBEB" stroke-width="0.6"/>
<line x1="239.3" x2="286.47" y1="364.82" y2="364.82" stroke="#EBEBEB" stroke-width="0.9"/>
<line x1="239.3" x2="286.47" y1="380.06" y2="380.06" stroke="#EBEBEB" stroke-width="0.9"/>
<line x1="239.3" x2="286.47" y1="395.3" y2="395.3" stroke="#EBEBEB" stroke-width="0.9"/>
<line x1="239.3" x2="286.47" y1="410.54" y2="410.54" stroke="#EBEBEB" stroke-width="0.9"/>
<line x1="239.3" x2="286.47" y1="425.78" y2="425.78" stroke="#EBEBEB" stroke-width="0.9"/>
<line x1="239.3" x2="286.47" y1="441.02" y2="441.02" stroke="#EBEBEB" stroke-width="0.9"/>
<line x1="252.16" x2="252.16" y1="355.2" y2="444.6" stroke="#EBEBEB" stroke-width="0.9"/>
<line x1="273.61" x2="273.61" y1="355.2" y2="444.6" stroke="#EBEBEB" stroke-width="0.9"/>
<text font-size="9.0" fill="#1A1A1A" stroke="#1A1A1A" stroke-width="0.08" text-anchor="middle" transform="translate(262.88 351.4) scale(1 1.04)">CAN</text>
<text font-size="11.25" fill="#4D4D4D" stroke="#4D4D4D" stroke-width="0.20" text-anchor="end" transform="translate(256.16 448) rotate(-90) scale(1 1.04)">REF</text>
<text font-size="11.25" fill="#4D4D4D" stroke="#4D4D4D" stroke-width="0.20" text-anchor="end" transform="translate(277.61 448) rotate(-90) scale(1 1.015)">50%</text>
<line x1="289.17" x2="336.33" y1="357.2" y2="357.2" stroke="#EBEBEB" stroke-width="0.6"/>
<line x1="289.17" x2="336.33" y1="372.44" y2="372.44" stroke="#EBEBEB" stroke-width="0.6"/>
<line x1="289.17" x2="336.33" y1="387.68" y2="387.68" stroke="#EBEBEB" stroke-width="0.6"/>
<line x1="289.17" x2="336.33" y1="402.92" y2="402.92" stroke="#EBEBEB" stroke-width="0.6"/>
<line x1="289.17" x2="336.33" y1="418.16" y2="418.16" stroke="#EBEBEB" stroke-width="0.6"/>
<line x1="289.17" x2="336.33" y1="433.4" y2="433.4" stroke="#EBEBEB" stroke-width="0.6"/>
<line x1="289.17" x2="336.33" y1="364.82" y2="364.82" stroke="#EBEBEB" stroke-width="0.9"/>
<line x1="289.17" x2="336.33" y1="380.06" y2="380.06" stroke="#EBEBEB" stroke-width="0.9"/>
<line x1="289.17" x2="336.33" y1="395.3" y2="395.3" stroke="#EBEBEB" stroke-width="0.9"/>
<line x1="289.17" x2="336.33" y1="410.54" y2="410.54" stroke="#EBEBEB" stroke-width="0.9"/>
<line x1="289.17" x2="336.33" y1="425.78" y2="425.78" stroke="#EBEBEB" stroke-width="0.9"/>
<line x1="289.17" x2="336.33" y1="441.02" y2="441.02" stroke="#EBEBEB" stroke-width="0.9"/>
<line x1="302.03" x2="302.03" y1="355.2" y2="444.6" stroke="#EBEBEB" stroke-width="0.9"/>
<line x1="323.47" x2="323.47" y1="355.2" y2="444.6" stroke="#EBEBEB" stroke-width="0.9"/>
<text font-size="9.0" fill="#1A1A1A" stroke="#1A1A1A" stroke-width="0.08" text-anchor="middle" transform="translate(312.75 351.4) scale(1 1.04)">CHN</text>
<text font-size="11.25" fill="#4D4D4D" stroke="#4D4D4D" stroke-width="0.20" text-anchor="end" transform="translate(306.03 448) rotate(-90) scale(1 1.04)">REF</text>
<text font-size="11.25" fill="#4D4D4D" stroke="#4D4D4D" stroke-width="0.20" text-anchor="end" transform="translate(327.47 448) rotate(-90) scale(1 1.015)">50%</text>
<line x1="339.03" x2="386.2" y1="357.2" y2="357.2" stroke="#EBEBEB" stroke-width="0.6"/>
<line x1="339.03" x2="386.2" y1="372.44" y2="372.44" stroke="#EBEBEB" stroke-width="0.6"/>
<line x1="339.03" x2="386.2" y1="387.68" y2="387.68" stroke="#EBEBEB" stroke-width="0.6"/>
<line x1="339.03" x2="386.2" y1="402.92" y2="402.92" stroke="#EBEBEB" stroke-width="0.6"/>
<line x1="339.03" x2="386.2" y1="418.16" y2="418.16" stroke="#EBEBEB" stroke-width="0.6"/>
<line x1="339.03" x2="386.2" y1="433.4" y2="433.4" stroke="#EBEBEB" stroke-width="0.6"/>
<line x1="339.03" x2="386.2" y1="364.82" y2="364.82" stroke="#EBEBEB" stroke-width="0.9"/>
<line x1="339.03" x2="386.2" y1="380.06" y2="380.06" stroke="#EBEBEB" stroke-width="0.9"/>
<line x1="339.03" x2="386.2" y1="395.3" y2="395.3" stroke="#EBEBEB" stroke-width="0.9"/>
<line x1="339.03" x2="386.2" y1="410.54" y2="410.54" stroke="#EBEBEB" stroke-width="0.9"/>
<line x1="339.03" x2="386.2" y1="425.78" y2="425.78" stroke="#EBEBEB" stroke-width="0.9"/>
<line x1="339.03" x2="386.2" y1="441.02" y2="441.02" stroke="#EBEBEB" stroke-width="0.9"/>
<line x1="351.9" x2="351.9" y1="355.2" y2="444.6" stroke="#EBEBEB" stroke-width="0.9"/>
<line x1="373.34" x2="373.34" y1="355.2" y2="444.6" stroke="#EBEBEB" stroke-width="0.9"/>
<text font-size="9.0" fill="#1A1A1A" stroke="#1A1A1A" stroke-width="0.08" text-anchor="middle" transform="translate(362.62 351.4) scale(1 1.04)">IND</text>
<text font-size="11.25" fill="#4D4D4D" stroke="#4D4D4D" stroke-width="0.20" text-anchor="end" transform="translate(355.9 448) rotate(-90) scale(1 1.04)">REF</text>
<text font-size="11.25" fill="#4D4D4D" stroke="#4D4D4D" stroke-width="0.20" text-anchor="end" transform="translate(377.34 448) rotate(-90) scale(1 1.015)">50%</text>
<line x1="388.9" x2="436.07" y1="357.2" y2="357.2" stroke="#EBEBEB" stroke-width="0.6"/>
<line x1="388.9" x2="436.07" y1="372.44" y2="372.44" stroke="#EBEBEB" stroke-width="0.6"/>
<line x1="388.9" x2="436.07" y1="387.68" y2="387.68" stroke="#EBEBEB" stroke-width="0.6"/>
<line x1="388.9" x2="436.07" y1="402.92" y2="402.92" stroke="#EBEBEB" stroke-width="0.6"/>
<line x1="388.9" x2="436.07" y1="418.16" y2="418.16" stroke="#EBEBEB" stroke-width="0.6"/>
<line x1="388.9" x2="436.07" y1="433.4" y2="433.4" stroke="#EBEBEB" stroke-width="0.6"/>
<line x1="388.9" x2="436.07" y1="364.82" y2="364.82" stroke="#EBEBEB" stroke-width="0.9"/>
<line x1="388.9" x2="436.07" y1="380.06" y2="380.06" stroke="#EBEBEB" stroke-width="0.9"/>
<line x1="388.9" x2="436.07" y1="395.3" y2="395.3" stroke="#EBEBEB" stroke-width="0.9"/>
<line x1="388.9" x2="436.07" y1="410.54" y2="410.54" stroke="#EBEBEB" stroke-width="0.9"/>
<line x1="388.9" x2="436.07" y1="425.78" y2="425.78" stroke="#EBEBEB" stroke-width="0.9"/>
<line x1="388.9" x2="436.07" y1="441.02" y2="441.02" stroke="#EBEBEB" stroke-width="0.9"/>
<line x1="401.76" x2="401.76" y1="355.2" y2="444.6" stroke="#EBEBEB" stroke-width="0.9"/>
<line x1="423.21" x2="423.21" y1="355.2" y2="444.6" stroke="#EBEBEB" stroke-width="0.9"/>
<text font-size="9.0" fill="#1A1A1A" stroke="#1A1A1A" stroke-width="0.08" text-anchor="middle" transform="translate(412.48 351.4) scale(1 1.04)">OSA</text>
<text font-size="11.25" fill="#4D4D4D" stroke="#4D4D4D" stroke-width="0.20" text-anchor="end" transform="translate(405.76 448) rotate(-90) scale(1 1.04)">REF</text>
<text font-size="11.25" fill="#4D4D4D" stroke="#4D4D4D" stroke-width="0.20" text-anchor="end" transform="translate(427.21 448) rotate(-90) scale(1 1.015)">50%</text>
<line x1="438.77" x2="485.93" y1="357.2" y2="357.2" stroke="#EBEBEB" stroke-width="0.6"/>
<line x1="438.77" x2="485.93" y1="372.44" y2="372.44" stroke="#EBEBEB" stroke-width="0.6"/>
<line x1="438.77" x2="485.93" y1="387.68" y2="387.68" stroke="#EBEBEB" stroke-width="0.6"/>
<line x1="438.77" x2="485.93" y1="402.92" y2="402.92" stroke="#EBEBEB" stroke-width="0.6"/>
<line x1="438.77" x2="485.93" y1="418.16" y2="418.16" stroke="#EBEBEB" stroke-width="0.6"/>
<line x1="438.77" x2="485.93" y1="433.4" y2="433.4" stroke="#EBEBEB" stroke-width="0.6"/>
<line x1="438.77" x2="485.93" y1="364.82" y2="364.82" stroke="#EBEBEB" stroke-width="0.9"/>
<line x1="438.77" x2="485.93" y1="380.06" y2="380.06" stroke="#EBEBEB" stroke-width="0.9"/>
<line x1="438.77" x2="485.93" y1="395.3" y2="395.3" stroke="#EBEBEB" stroke-width="0.9"/>
<line x1="438.77" x2="485.93" y1="410.54" y2="410.54" stroke="#EBEBEB" stroke-width="0.9"/>
<line x1="438.77" x2="485.93" y1="425.78" y2="425.78" stroke="#EBEBEB" stroke-width="0.9"/>
<line x1="438.77" x2="485.93" y1="441.02" y2="441.02" stroke="#EBEBEB" stroke-width="0.9"/>
<line x1="451.63" x2="451.63" y1="355.2" y2="444.6" stroke="#EBEBEB" stroke-width="0.9"/>
<line x1="473.07" x2="473.07" y1="355.2" y2="444.6" stroke="#EBEBEB" stroke-width="0.9"/>
<text font-size="9.0" fill="#1A1A1A" stroke="#1A1A1A" stroke-width="0.08" text-anchor="middle" transform="translate(462.35 351.4) scale(1 1.04)">EUR</text>
<text font-size="11.25" fill="#4D4D4D" stroke="#4D4D4D" stroke-width="0.20" text-anchor="end" transform="translate(455.63 448) rotate(-90) scale(1 1.04)">REF</text>
<text font-size="11.25" fill="#4D4D4D" stroke="#4D4D4D" stroke-width="0.20" text-anchor="end" transform="translate(477.07 448) rotate(-90) scale(1 1.015)">50%</text>
<line x1="488.63" x2="535.8" y1="357.2" y2="357.2" stroke="#EBEBEB" stroke-width="0.6"/>
<line x1="488.63" x2="535.8" y1="372.44" y2="372.44" stroke="#EBEBEB" stroke-width="0.6"/>
<line x1="488.63" x2="535.8" y1="387.68" y2="387.68" stroke="#EBEBEB" stroke-width="0.6"/>
<line x1="488.63" x2="535.8" y1="402.92" y2="402.92" stroke="#EBEBEB" stroke-width="0.6"/>
<line x1="488.63" x2="535.8" y1="418.16" y2="418.16" stroke="#EBEBEB" stroke-width="0.6"/>
<line x1="488.63" x2="535.8" y1="433.4" y2="433.4" stroke="#EBEBEB" stroke-width="0.6"/>
<line x1="488.63" x2="535.8" y1="364.82" y2="364.82" stroke="#EBEBEB" stroke-width="0.9"/>
<line x1="488.63" x2="535.8" y1="380.06" y2="380.06" stroke="#EBEBEB" stroke-width="0.9"/>
<line x1="488.63" x2="535.8" y1="395.3" y2="395.3" stroke="#EBEBEB" stroke-width="0.9"/>
<line x1="488.63" x2="535.8" y1="410.54" y2="410.54" stroke="#EBEBEB" stroke-width="0.9"/>
<line x1="488.63" x2="535.8" y1="425.78" y2="425.78" stroke="#EBEBEB" stroke-width="0.9"/>
<line x1="488.63" x2="535.8" y1="441.02" y2="441.02" stroke="#EBEBEB" stroke-width="0.9"/>
<line x1="501.5" x2="501.5" y1="355.2" y2="444.6" stroke="#EBEBEB" stroke-width="0.9"/>
<line x1="522.94" x2="522.94" y1="355.2" y2="444.6" stroke="#EBEBEB" stroke-width="0.9"/>
<text font-size="9.0" fill="#1A1A1A" stroke="#1A1A1A" stroke-width="0.08" text-anchor="middle" transform="translate(512.22 351.4) scale(1 1.04)">MEN</text>
<text font-size="11.25" fill="#4D4D4D" stroke="#4D4D4D" stroke-width="0.20" text-anchor="end" transform="translate(505.5 448) rotate(-90) scale(1 1.04)">REF</text>
<text font-size="11.25" fill="#4D4D4D" stroke="#4D4D4D" stroke-width="0.20" text-anchor="end" transform="translate(526.94 448) rotate(-90) scale(1 1.015)">50%</text>
<line x1="538.5" x2="585.67" y1="357.2" y2="357.2" stroke="#EBEBEB" stroke-width="0.6"/>
<line x1="538.5" x2="585.67" y1="372.44" y2="372.44" stroke="#EBEBEB" stroke-width="0.6"/>
<line x1="538.5" x2="585.67" y1="387.68" y2="387.68" stroke="#EBEBEB" stroke-width="0.6"/>
<line x1="538.5" x2="585.67" y1="402.92" y2="402.92" stroke="#EBEBEB" stroke-width="0.6"/>
<line x1="538.5" x2="585.67" y1="418.16" y2="418.16" stroke="#EBEBEB" stroke-width="0.6"/>
<line x1="538.5" x2="585.67" y1="433.4" y2="433.4" stroke="#EBEBEB" stroke-width="0.6"/>
<line x1="538.5" x2="585.67" y1="364.82" y2="364.82" stroke="#EBEBEB" stroke-width="0.9"/>
<line x1="538.5" x2="585.67" y1="380.06" y2="380.06" stroke="#EBEBEB" stroke-width="0.9"/>
<line x1="538.5" x2="585.67" y1="395.3" y2="395.3" stroke="#EBEBEB" stroke-width="0.9"/>
<line x1="538.5" x2="585.67" y1="410.54" y2="410.54" stroke="#EBEBEB" stroke-width="0.9"/>
<line x1="538.5" x2="585.67" y1="425.78" y2="425.78" stroke="#EBEBEB" stroke-width="0.9"/>
<line x1="538.5" x2="585.67" y1="441.02" y2="441.02" stroke="#EBEBEB" stroke-width="0.9"/>
<line x1="551.36" x2="551.36" y1="355.2" y2="444.6" stroke="#EBEBEB" stroke-width="0.9"/>
<line x1="572.8" x2="572.8" y1="355.2" y2="444.6" stroke="#EBEBEB" stroke-width="0.9"/>
<text font-size="9.0" fill="#1A1A1A" stroke="#1A1A1A" stroke-width="0.08" text-anchor="middle" transform="translate(562.08 351.4) scale(1 1.04)">SSA</text>
<text font-size="11.25" fill="#4D4D4D" stroke="#4D4D4D" stroke-width="0.20" text-anchor="end" transform="translate(555.36 448) rotate(-90) scale(1 1.04)">REF</text>
<text font-size="11.25" fill="#4D4D4D" stroke="#4D4D4D" stroke-width="0.20" text-anchor="end" transform="translate(576.8 448) rotate(-90) scale(1 1.015)">50%</text>
<line x1="588.37" x2="635.53" y1="357.2" y2="357.2" stroke="#EBEBEB" stroke-width="0.6"/>
<line x1="588.37" x2="635.53" y1="372.44" y2="372.44" stroke="#EBEBEB" stroke-width="0.6"/>
<line x1="588.37" x2="635.53" y1="387.68" y2="387.68" stroke="#EBEBEB" stroke-width="0.6"/>
<line x1="588.37" x2="635.53" y1="402.92" y2="402.92" stroke="#EBEBEB" stroke-width="0.6"/>
<line x1="588.37" x2="635.53" y1="418.16" y2="418.16" stroke="#EBEBEB" stroke-width="0.6"/>
<line x1="588.37" x2="635.53" y1="433.4" y2="433.4" stroke="#EBEBEB" stroke-width="0.6"/>
<line x1="588.37" x2="635.53" y1="364.82" y2="364.82" stroke="#EBEBEB" stroke-width="0.9"/>
<line x1="588.37" x2="635.53" y1="380.06" y2="380.06" stroke="#EBEBEB" stroke-width="0.9"/>
<line x1="588.37" x2="635.53" y1="395.3" y2="395.3" stroke="#EBEBEB" stroke-width="0.9"/>
<line x1="588.37" x2="635.53" y1="410.54" y2="410.54" stroke="#EBEBEB" stroke-width="0.9"/>
<line x1="588.37" x2="635.53" y1="425.78" y2="425.78" stroke="#EBEBEB" stroke-width="0.9"/>
<line x1="588.37" x2="635.53" y1="441.02" y2="441.02" stroke="#EBEBEB" stroke-width="0.9"/>
<line x1="601.23" x2="601.23" y1="355.2" y2="444.6" stroke="#EBEBEB" stroke-width="0.9"/>
<line x1="622.67" x2="622.67" y1="355.2" y2="444.6" stroke="#EBEBEB" stroke-width="0.9"/>
<text font-size="9.0" fill="#1A1A1A" stroke="#1A1A1A" stroke-width="0.08" text-anchor="middle" transform="translate(611.95 351.4) scale(1 1.04)">SEA</text>
<text font-size="11.25" fill="#4D4D4D" stroke="#4D4D4D" stroke-width="0.20" text-anchor="end" transform="translate(605.23 448) rotate(-90) scale(1 1.04)">REF</text>
<text font-size="11.25" fill="#4D4D4D" stroke="#4D4D4D" stroke-width="0.20" text-anchor="end" transform="translate(626.67 448) rotate(-90) scale(1 1.015)">50%</text>
<line x1="638.23" x2="685.4" y1="357.2" y2="357.2" stroke="#EBEBEB" stroke-width="0.6"/>
<line x1="638.23" x2="685.4" y1="372.44" y2="372.44" stroke="#EBEBEB" stroke-width="0.6"/>
<line x1="638.23" x2="685.4" y1="387.68" y2="387.68" stroke="#EBEBEB" stroke-width="0.6"/>
<line x1="638.23" x2="685.4" y1="402.92" y2="402.92" stroke="#EBEBEB" stroke-width="0.6"/>
<line x1="638.23" x2="685.4" y1="418.16" y2="418.16" stroke="#EBEBEB" stroke-width="0.6"/>
<line x1="638.23" x2="685.4" y1="433.4" y2="433.4" stroke="#EBEBEB" stroke-width="0.6"/>
<line x1="638.23" x2="685.4" y1="364.82" y2="364.82" stroke="#EBEBEB" stroke-width="0.9"/>
<line x1="638.23" x2="685.4" y1="380.06" y2="380.06" stroke="#EBEBEB" stroke-width="0.9"/>
<line x1="638.23" x2="685.4" y1="395.3" y2="395.3" stroke="#EBEBEB" stroke-width="0.9"/>
<line x1="638.23" x2="685.4" y1="410.54" y2="410.54" stroke="#EBEBEB" stroke-width="0.9"/>
<line x1="638.23" x2="685.4" y1="425.78" y2="425.78" stroke="#EBEBEB" stroke-width="0.9"/>
<line x1="638.23" x2="685.4" y1="441.02" y2="441.02" stroke="#EBEBEB" stroke-width="0.9"/>
<line x1="651.1" x2="651.1" y1="355.2" y2="444.6" stroke="#EBEBEB" stroke-width="0.9"/>
<line x1="672.54" x2="672.54" y1="355.2" y2="444.6" stroke="#EBEBEB" stroke-width="0.9"/>
<text font-size="9.0" fill="#1A1A1A" stroke="#1A1A1A" stroke-width="0.08" text-anchor="middle" transform="translate(661.82 351.4) scale(1 1.04)">OAS</text>
<text font-size="11.25" fill="#4D4D4D" stroke="#4D4D4D" stroke-width="0.20" text-anchor="end" transform="translate(655.1 448) rotate(-90) scale(1 1.04)">REF</text>
<text font-size="11.25" fill="#4D4D4D" stroke="#4D4D4D" stroke-width="0.20" text-anchor="end" transform="translate(676.54 448) rotate(-90) scale(1 1.015)">50%</text>
<rect x="43.05" y="394.3" width="19.29" height="1" fill="#BCBDDC"/>
<rect x="64.49" y="395.3" width="19.29" height="2.4" fill="#BCBDDC"/>
<rect x="92.92" y="395.3" width="19.29" height="1.8" fill="#BCBDDC"/>
<rect x="114.36" y="395.3" width="19.29" height="11.2" fill="#BCBDDC"/>
<rect x="142.79" y="389" width="19.29" height="6.3" fill="#BCBDDC"/>
<rect x="164.23" y="395.3" width="19.29" height="4" fill="#BCBDDC"/>
<rect x="192.65" y="395.3" width="19.29" height="4.6" fill="#BCBDDC"/>
<rect x="214.09" y="395.3" width="19.29" height="4.4" fill="#BCBDDC"/>
<rect x="242.52" y="394.6" width="19.29" height="0.7" fill="#BCBDDC"/>
<rect x="263.96" y="395.3" width="19.29" height="1.3" fill="#BCBDDC"/>
<rect x="292.38" y="395.3" width="19.29" height="12.3" fill="#BCBDDC"/>
<rect x="313.83" y="395.3" width="19.29" height="45" fill="#BCBDDC"/>
<rect x="342.25" y="395.3" width="19.29" height="7.3" fill="#BCBDDC"/>
<rect x="363.69" y="395.3" width="19.29" height="12.7" fill="#BCBDDC"/>
<rect x="392.12" y="382.4" width="19.29" height="12.9" fill="#BCBDDC"/>
<rect x="413.56" y="395.3" width="19.29" height="11" fill="#BCBDDC"/>
<rect x="441.98" y="395.3" width="19.29" height="9.9" fill="#BCBDDC"/>
<rect x="463.43" y="395.3" width="19.29" height="17.5" fill="#BCBDDC"/>
<rect x="491.85" y="359.2" width="19.29" height="36.1" fill="#BCBDDC"/>
<rect x="513.29" y="382.4" width="19.29" height="12.9" fill="#BCBDDC"/>
<rect x="541.72" y="372.3" width="19.29" height="23" fill="#BCBDDC"/>
<rect x="563.16" y="378.9" width="19.29" height="16.4" fill="#BCBDDC"/>
<rect x="591.58" y="389" width="19.29" height="6.3" fill="#BCBDDC"/>
<rect x="613.03" y="395.3" width="19.29" height="15.9" fill="#BCBDDC"/>
<rect x="641.45" y="383.8" width="19.29" height="11.5" fill="#BCBDDC"/>
<rect x="662.89" y="387" width="19.29" height="8.3" fill="#BCBDDC"/>
<text font-size="9.0" fill="#4D4D4D" stroke="#4D4D4D" stroke-width="0.08" text-anchor="end" transform="translate(37.59 368.42)">100</text>
<text font-size="9.0" fill="#4D4D4D" stroke="#4D4D4D" stroke-width="0.08" text-anchor="end" transform="translate(37.59 383.66)">50</text>
<text font-size="9.0" fill="#4D4D4D" stroke="#4D4D4D" stroke-width="0.08" text-anchor="end" transform="translate(37.59 398.9)">0</text>
<text font-size="9.0" fill="#4D4D4D" stroke="#4D4D4D" stroke-width="0.08" text-anchor="end" transform="translate(37.59 414.14)">−50</text>
<text font-size="9.0" fill="#4D4D4D" stroke="#4D4D4D" stroke-width="0.08" text-anchor="end" transform="translate(37.59 429.38)">−100</text>
<text font-size="9.0" fill="#4D4D4D" stroke="#4D4D4D" stroke-width="0.08" text-anchor="end" transform="translate(37.59 444.62)">−150</text>
<text font-size="13.5" fill="#000" stroke="#000" stroke-width="0.20" text-anchor="start" transform="translate(40.7 335.5)">Water use, REF vs. 50% in 2050</text>
<text font-size="11.25" fill="#000" text-anchor="start" font-weight="bold" transform="translate(2 334.5)">c</text>
<line x1="38.56" x2="85.82" y1="531.82" y2="531.82" stroke="#EBEBEB" stroke-width="0.6"/>
<line x1="38.56" x2="85.82" y1="550.85" y2="550.85" stroke="#EBEBEB" stroke-width="0.6"/>
<line x1="38.56" x2="85.82" y1="569.89" y2="569.89" stroke="#EBEBEB" stroke-width="0.6"/>
<line x1="38.56" x2="85.82" y1="522.3" y2="522.3" stroke="#EBEBEB" stroke-width="0.9"/>
<line x1="38.56" x2="85.82" y1="541.34" y2="541.34" stroke="#EBEBEB" stroke-width="0.9"/>
<line x1="38.56" x2="85.82" y1="560.37" y2="560.37" stroke="#EBEBEB" stroke-width="0.9"/>
<line x1="38.56" x2="85.82" y1="579.4" y2="579.4" stroke="#EBEBEB" stroke-width="0.9"/>
<line x1="51.45" x2="51.45" y1="517.5" y2="583.5" stroke="#EBEBEB" stroke-width="0.9"/>
<line x1="72.93" x2="72.93" y1="517.5" y2="583.5" stroke="#EBEBEB" stroke-width="0.9"/>
<text font-size="9.0" fill="#1A1A1A" stroke="#1A1A1A" stroke-width="0.08" text-anchor="middle" transform="translate(62.19 513.7) scale(1 1.04)">ANZ</text>
<text font-size="11.25" fill="#4D4D4D" stroke="#4D4D4D" stroke-width="0.20" text-anchor="end" transform="translate(57.25 587.3) rotate(-90) scale(1 1.04)">REF</text>
<text font-size="11.25" fill="#4D4D4D" stroke="#4D4D4D" stroke-width="0.20" text-anchor="end" transform="translate(78.73 587.3) rotate(-90) scale(1 1.015)">50%</text>
<line x1="88.52" x2="135.79" y1="531.82" y2="531.82" stroke="#EBEBEB" stroke-width="0.6"/>
<line x1="88.52" x2="135.79" y1="550.85" y2="550.85" stroke="#EBEBEB" stroke-width="0.6"/>
<line x1="88.52" x2="135.79" y1="569.89" y2="569.89" stroke="#EBEBEB" stroke-width="0.6"/>
<line x1="88.52" x2="135.79" y1="522.3" y2="522.3" stroke="#EBEBEB" stroke-width="0.9"/>
<line x1="88.52" x2="135.79" y1="541.34" y2="541.34" stroke="#EBEBEB" stroke-width="0.9"/>
<line x1="88.52" x2="135.79" y1="560.37" y2="560.37" stroke="#EBEBEB" stroke-width="0.9"/>
<line x1="88.52" x2="135.79" y1="579.4" y2="579.4" stroke="#EBEBEB" stroke-width="0.9"/>
<line x1="101.41" x2="101.41" y1="517.5" y2="583.5" stroke="#EBEBEB" stroke-width="0.9"/>
<line x1="122.9" x2="122.9" y1="517.5" y2="583.5" stroke="#EBEBEB" stroke-width="0.9"/>
<text font-size="9.0" fill="#1A1A1A" stroke="#1A1A1A" stroke-width="0.08" text-anchor="middle" transform="translate(112.16 513.7) scale(1 1.04)">USA</text>
<text font-size="11.25" fill="#4D4D4D" stroke="#4D4D4D" stroke-width="0.20" text-anchor="end" transform="translate(107.21 587.3) rotate(-90) scale(1 1.04)">REF</text>
<text font-size="11.25" fill="#4D4D4D" stroke="#4D4D4D" stroke-width="0.20" text-anchor="end" transform="translate(128.7 587.3) rotate(-90) scale(1 1.015)">50%</text>
<line x1="138.49" x2="185.75" y1="531.82" y2="531.82" stroke="#EBEBEB" stroke-width="0.6"/>
<line x1="138.49" x2="185.75" y1="550.85" y2="550.85" stroke="#EBEBEB" stroke-width="0.6"/>
<line x1="138.49" x2="185.75" y1="569.89" y2="569.89" stroke="#EBEBEB" stroke-width="0.6"/>
<line x1="138.49" x2="185.75" y1="522.3" y2="522.3" stroke="#EBEBEB" stroke-width="0.9"/>
<line x1="138.49" x2="185.75" y1="541.34" y2="541.34" stroke="#EBEBEB" stroke-width="0.9"/>
<line x1="138.49" x2="185.75" y1="560.37" y2="560.37" stroke="#EBEBEB" stroke-width="0.9"/>
<line x1="138.49" x2="185.75" y1="579.4" y2="579.4" stroke="#EBEBEB" stroke-width="0.9"/>
<line x1="151.38" x2="151.38" y1="517.5" y2="583.5" stroke="#EBEBEB" stroke-width="0.9"/>
<line x1="172.86" x2="172.86" y1="517.5" y2="583.5" stroke="#EBEBEB" stroke-width="0.9"/>
<text font-size="9.0" fill="#1A1A1A" stroke="#1A1A1A" stroke-width="0.08" text-anchor="middle" transform="translate(162.12 513.7) scale(1 1.04)">FSU</text>
<text font-size="11.25" fill="#4D4D4D" stroke="#4D4D4D" stroke-width="0.20" text-anchor="end" transform="translate(157.18 587.3) rotate(-90) scale(1 1.04)">REF</text>
<text font-size="11.25" fill="#4D4D4D" stroke="#4D4D4D" stroke-width="0.20" text-anchor="end" transform="translate(178.66 587.3) rotate(-90) scale(1 1.015)">50%</text>
<line x1="188.45" x2="235.72" y1="531.82" y2="531.82" stroke="#EBEBEB" stroke-width="0.6"/>
<line x1="188.45" x2="235.72" y1="550.85" y2="550.85" stroke="#EBEBEB" stroke-width="0.6"/>
<line x1="188.45" x2="235.72" y1="569.89" y2="569.89" stroke="#EBEBEB" stroke-width="0.6"/>
<line x1="188.45" x2="235.72" y1="522.3" y2="522.3" stroke="#EBEBEB" stroke-width="0.9"/>
<line x1="188.45" x2="235.72" y1="541.34" y2="541.34" stroke="#EBEBEB" stroke-width="0.9"/>
<line x1="188.45" x2="235.72" y1="560.37" y2="560.37" stroke="#EBEBEB" stroke-width="0.9"/>
<line x1="188.45" x2="235.72" y1="579.4" y2="579.4" stroke="#EBEBEB" stroke-width="0.9"/>
<line x1="201.34" x2="201.34" y1="517.5" y2="583.5" stroke="#EBEBEB" stroke-width="0.9"/>
<line x1="222.83" x2="222.83" y1="517.5" y2="583.5" stroke="#EBEBEB" stroke-width="0.9"/>
<text font-size="9.0" fill="#1A1A1A" stroke="#1A1A1A" stroke-width="0.08" text-anchor="middle" transform="translate(212.09 513.7) scale(1 1.04)">BRA</text>
<text font-size="11.25" fill="#4D4D4D" stroke="#4D4D4D" stroke-width="0.20" text-anchor="end" transform="translate(207.14 587.3) rotate(-90) scale(1 1.04)">REF</text>
<text font-size="11.25" fill="#4D4D4D" stroke="#4D4D4D" stroke-width="0.20" text-anchor="end" transform="translate(228.63 587.3) rotate(-90) scale(1 1.015)">50%</text>
<line x1="238.42" x2="285.68" y1="531.82" y2="531.82" stroke="#EBEBEB" stroke-width="0.6"/>
<line x1="238.42" x2="285.68" y1="550.85" y2="550.85" stroke="#EBEBEB" stroke-width="0.6"/>
<line x1="238.42" x2="285.68" y1="569.89" y2="569.89" stroke="#EBEBEB" stroke-width="0.6"/>
<line x1="238.42" x2="285.68" y1="522.3" y2="522.3" stroke="#EBEBEB" stroke-width="0.9"/>
<line x1="238.42" x2="285.68" y1="541.34" y2="541.34" stroke="#EBEBEB" stroke-width="0.9"/>
<line x1="238.42" x2="285.68" y1="560.37" y2="560.37" stroke="#EBEBEB" stroke-width="0.9"/>
<line x1="238.42" x2="285.68" y1="579.4" y2="579.4" stroke="#EBEBEB" stroke-width="0.9"/>
<line x1="251.31" x2="251.31" y1="517.5" y2="583.5" stroke="#EBEBEB" stroke-width="0.9"/>
<line x1="272.79" x2="272.79" y1="517.5" y2="583.5" stroke="#EBEBEB" stroke-width="0.9"/>
<text font-size="9.0" fill="#1A1A1A" stroke="#1A1A1A" stroke-width="0.08" text-anchor="middle" transform="translate(262.05 513.7) scale(1 1.04)">CAN</text>
<text font-size="11.25" fill="#4D4D4D" stroke="#4D4D4D" stroke-width="0.20" text-anchor="end" transform="translate(257.11 587.3) rotate(-90) scale(1 1.04)">REF</text>
<text font-size="11.25" fill="#4D4D4D" stroke="#4D4D4D" stroke-width="0.20" text-anchor="end" transform="translate(278.59 587.3) rotate(-90) scale(1 1.015)">50%</text>
<line x1="288.38" x2="335.65" y1="531.82" y2="531.82" stroke="#EBEBEB" stroke-width="0.6"/>
<line x1="288.38" x2="335.65" y1="550.85" y2="550.85" stroke="#EBEBEB" stroke-width="0.6"/>
<line x1="288.38" x2="335.65" y1="569.89" y2="569.89" stroke="#EBEBEB" stroke-width="0.6"/>
<line x1="288.38" x2="335.65" y1="522.3" y2="522.3" stroke="#EBEBEB" stroke-width="0.9"/>
<line x1="288.38" x2="335.65" y1="541.34" y2="541.34" stroke="#EBEBEB" stroke-width="0.9"/>
<line x1="288.38" x2="335.65" y1="560.37" y2="560.37" stroke="#EBEBEB" stroke-width="0.9"/>
<line x1="288.38" x2="335.65" y1="579.4" y2="579.4" stroke="#EBEBEB" stroke-width="0.9"/>
<line x1="301.27" x2="301.27" y1="517.5" y2="583.5" stroke="#EBEBEB" stroke-width="0.9"/>
<line x1="322.76" x2="322.76" y1="517.5" y2="583.5" stroke="#EBEBEB" stroke-width="0.9"/>
<text font-size="9.0" fill="#1A1A1A" stroke="#1A1A1A" stroke-width="0.08" text-anchor="middle" transform="translate(312.01 513.7) scale(1 1.04)">CHN</text>
<text font-size="11.25" fill="#4D4D4D" stroke="#4D4D4D" stroke-width="0.20" text-anchor="end" transform="translate(307.07 587.3) rotate(-90) scale(1 1.04)">REF</text>
<text font-size="11.25" fill="#4D4D4D" stroke="#4D4D4D" stroke-width="0.20" text-anchor="end" transform="translate(328.56 587.3) rotate(-90) scale(1 1.015)">50%</text>
<line x1="338.35" x2="385.61" y1="531.82" y2="531.82" stroke="#EBEBEB" stroke-width="0.6"/>
<line x1="338.35" x2="385.61" y1="550.85" y2="550.85" stroke="#EBEBEB" stroke-width="0.6"/>
<line x1="338.35" x2="385.61" y1="569.89" y2="569.89" stroke="#EBEBEB" stroke-width="0.6"/>
<line x1="338.35" x2="385.61" y1="522.3" y2="522.3" stroke="#EBEBEB" stroke-width="0.9"/>
<line x1="338.35" x2="385.61" y1="541.34" y2="541.34" stroke="#EBEBEB" stroke-width="0.9"/>
<line x1="338.35" x2="385.61" y1="560.37" y2="560.37" stroke="#EBEBEB" stroke-width="0.9"/>
<line x1="338.35" x2="385.61" y1="579.4" y2="579.4" stroke="#EBEBEB" stroke-width="0.9"/>
<line x1="351.24" x2="351.24" y1="517.5" y2="583.5" stroke="#EBEBEB" stroke-width="0.9"/>
<line x1="372.72" x2="372.72" y1="517.5" y2="583.5" stroke="#EBEBEB" stroke-width="0.9"/>
<text font-size="9.0" fill="#1A1A1A" stroke="#1A1A1A" stroke-width="0.08" text-anchor="middle" transform="translate(361.98 513.7) scale(1 1.04)">IND</text>
<text font-size="11.25" fill="#4D4D4D" stroke="#4D4D4D" stroke-width="0.20" text-anchor="end" transform="translate(357.04 587.3) rotate(-90) scale(1 1.04)">REF</text>
<text font-size="11.25" fill="#4D4D4D" stroke="#4D4D4D" stroke-width="0.20" text-anchor="end" transform="translate(378.52 587.3) rotate(-90) scale(1 1.015)">50%</text>
<line x1="388.31" x2="435.58" y1="531.82" y2="531.82" stroke="#EBEBEB" stroke-width="0.6"/>
<line x1="388.31" x2="435.58" y1="550.85" y2="550.85" stroke="#EBEBEB" stroke-width="0.6"/>
<line x1="388.31" x2="435.58" y1="569.89" y2="569.89" stroke="#EBEBEB" stroke-width="0.6"/>
<line x1="388.31" x2="435.58" y1="522.3" y2="522.3" stroke="#EBEBEB" stroke-width="0.9"/>
<line x1="388.31" x2="435.58" y1="541.34" y2="541.34" stroke="#EBEBEB" stroke-width="0.9"/>
<line x1="388.31" x2="435.58" y1="560.37" y2="560.37" stroke="#EBEBEB" stroke-width="0.9"/>
<line x1="388.31" x2="435.58" y1="579.4" y2="579.4" stroke="#EBEBEB" stroke-width="0.9"/>
<line x1="401.2" x2="401.2" y1="517.5" y2="583.5" stroke="#EBEBEB" stroke-width="0.9"/>
<line x1="422.69" x2="422.69" y1="517.5" y2="583.5" stroke="#EBEBEB" stroke-width="0.9"/>
<text font-size="9.0" fill="#1A1A1A" stroke="#1A1A1A" stroke-width="0.08" text-anchor="middle" transform="translate(411.94 513.7) scale(1 1.04)">OSA</text>
<text font-size="11.25" fill="#4D4D4D" stroke="#4D4D4D" stroke-width="0.20" text-anchor="end" transform="translate(407 587.3) rotate(-90) scale(1 1.04)">REF</text>
<text font-size="11.25" fill="#4D4D4D" stroke="#4D4D4D" stroke-width="0.20" text-anchor="end" transform="translate(428.49 587.3) rotate(-90) scale(1 1.015)">50%</text>
<line x1="438.28" x2="485.54" y1="531.82" y2="531.82" stroke="#EBEBEB" stroke-width="0.6"/>
<line x1="438.28" x2="485.54" y1="550.85" y2="550.85" stroke="#EBEBEB" stroke-width="0.6"/>
<line x1="438.28" x2="485.54" y1="569.89" y2="569.89" stroke="#EBEBEB" stroke-width="0.6"/>
<line x1="438.28" x2="485.54" y1="522.3" y2="522.3" stroke="#EBEBEB" stroke-width="0.9"/>
<line x1="438.28" x2="485.54" y1="541.34" y2="541.34" stroke="#EBEBEB" stroke-width="0.9"/>
<line x1="438.28" x2="485.54" y1="560.37" y2="560.37" stroke="#EBEBEB" stroke-width="0.9"/>
<line x1="438.28" x2="485.54" y1="579.4" y2="579.4" stroke="#EBEBEB" stroke-width="0.9"/>
<line x1="451.17" x2="451.17" y1="517.5" y2="583.5" stroke="#EBEBEB" stroke-width="0.9"/>
<line x1="472.65" x2="472.65" y1="517.5" y2="583.5" stroke="#EBEBEB" stroke-width="0.9"/>
<text font-size="9.0" fill="#1A1A1A" stroke="#1A1A1A" stroke-width="0.08" text-anchor="middle" transform="translate(461.91 513.7) scale(1 1.04)">EUR</text>
<text font-size="11.25" fill="#4D4D4D" stroke="#4D4D4D" stroke-width="0.20" text-anchor="end" transform="translate(456.97 587.3) rotate(-90) scale(1 1.04)">REF</text>
<text font-size="11.25" fill="#4D4D4D" stroke="#4D4D4D" stroke-width="0.20" text-anchor="end" transform="translate(478.45 587.3) rotate(-90) scale(1 1.015)">50%</text>
<line x1="488.24" x2="535.51" y1="531.82" y2="531.82" stroke="#EBEBEB" stroke-width="0.6"/>
<line x1="488.24" x2="535.51" y1="550.85" y2="550.85" stroke="#EBEBEB" stroke-width="0.6"/>
<line x1="488.24" x2="535.51" y1="569.89" y2="569.89" stroke="#EBEBEB" stroke-width="0.6"/>
<line x1="488.24" x2="535.51" y1="522.3" y2="522.3" stroke="#EBEBEB" stroke-width="0.9"/>
<line x1="488.24" x2="535.51" y1="541.34" y2="541.34" stroke="#EBEBEB" stroke-width="0.9"/>
<line x1="488.24" x2="535.51" y1="560.37" y2="560.37" stroke="#EBEBEB" stroke-width="0.9"/>
<line x1="488.24" x2="535.51" y1="579.4" y2="579.4" stroke="#EBEBEB" stroke-width="0.9"/>
<line x1="501.13" x2="501.13" y1="517.5" y2="583.5" stroke="#EBEBEB" stroke-width="0.9"/>
<line x1="522.62" x2="522.62" y1="517.5" y2="583.5" stroke="#EBEBEB" stroke-width="0.9"/>
<text font-size="9.0" fill="#1A1A1A" stroke="#1A1A1A" stroke-width="0.08" text-anchor="middle" transform="translate(511.87 513.7) scale(1 1.04)">MEN</text>
<text font-size="11.25" fill="#4D4D4D" stroke="#4D4D4D" stroke-width="0.20" text-anchor="end" transform="translate(506.93 587.3) rotate(-90) scale(1 1.04)">REF</text>
<text font-size="11.25" fill="#4D4D4D" stroke="#4D4D4D" stroke-width="0.20" text-anchor="end" transform="translate(528.42 587.3) rotate(-90) scale(1 1.015)">50%</text>
<line x1="538.21" x2="585.47" y1="531.82" y2="531.82" stroke="#EBEBEB" stroke-width="0.6"/>
<line x1="538.21" x2="585.47" y1="550.85" y2="550.85" stroke="#EBEBEB" stroke-width="0.6"/>
<line x1="538.21" x2="585.47" y1="569.89" y2="569.89" stroke="#EBEBEB" stroke-width="0.6"/>
<line x1="538.21" x2="585.47" y1="522.3" y2="522.3" stroke="#EBEBEB" stroke-width="0.9"/>
<line x1="538.21" x2="585.47" y1="541.34" y2="541.34" stroke="#EBEBEB" stroke-width="0.9"/>
<line x1="538.21" x2="585.47" y1="560.37" y2="560.37" stroke="#EBEBEB" stroke-width="0.9"/>
<line x1="538.21" x2="585.47" y1="579.4" y2="579.4" stroke="#EBEBEB" stroke-width="0.9"/>
<line x1="551.1" x2="551.1" y1="517.5" y2="583.5" stroke="#EBEBEB" stroke-width="0.9"/>
<line x1="572.58" x2="572.58" y1="517.5" y2="583.5" stroke="#EBEBEB" stroke-width="0.9"/>
<text font-size="9.0" fill="#1A1A1A" stroke="#1A1A1A" stroke-width="0.08" text-anchor="middle" transform="translate(561.84 513.7) scale(1 1.04)">SSA</text>
<text font-size="11.25" fill="#4D4D4D" stroke="#4D4D4D" stroke-width="0.20" text-anchor="end" transform="translate(556.9 587.3) rotate(-90) scale(1 1.04)">REF</text>
<text font-size="11.25" fill="#4D4D4D" stroke="#4D4D4D" stroke-width="0.20" text-anchor="end" transform="translate(578.38 587.3) rotate(-90) scale(1 1.015)">50%</text>
<line x1="588.17" x2="635.44" y1="531.82" y2="531.82" stroke="#EBEBEB" stroke-width="0.6"/>
<line x1="588.17" x2="635.44" y1="550.85" y2="550.85" stroke="#EBEBEB" stroke-width="0.6"/>
<line x1="588.17" x2="635.44" y1="569.89" y2="569.89" stroke="#EBEBEB" stroke-width="0.6"/>
<line x1="588.17" x2="635.44" y1="522.3" y2="522.3" stroke="#EBEBEB" stroke-width="0.9"/>
<line x1="588.17" x2="635.44" y1="541.34" y2="541.34" stroke="#EBEBEB" stroke-width="0.9"/>
<line x1="588.17" x2="635.44" y1="560.37" y2="560.37" stroke="#EBEBEB" stroke-width="0.9"/>
<line x1="588.17" x2="635.44" y1="579.4" y2="579.4" stroke="#EBEBEB" stroke-width="0.9"/>
<line x1="601.06" x2="601.06" y1="517.5" y2="583.5" stroke="#EBEBEB" stroke-width="0.9"/>
<line x1="622.55" x2="622.55" y1="517.5" y2="583.5" stroke="#EBEBEB" stroke-width="0.9"/>
<text font-size="9.0" fill="#1A1A1A" stroke="#1A1A1A" stroke-width="0.08" text-anchor="middle" transform="translate(611.8 513.7) scale(1 1.04)">SEA</text>
<text font-size="11.25" fill="#4D4D4D" stroke="#4D4D4D" stroke-width="0.20" text-anchor="end" transform="translate(606.86 587.3) rotate(-90) scale(1 1.04)">REF</text>
<text font-size="11.25" fill="#4D4D4D" stroke="#4D4D4D" stroke-width="0.20" text-anchor="end" transform="translate(628.35 587.3) rotate(-90) scale(1 1.015)">50%</text>
<line x1="638.14" x2="685.4" y1="531.82" y2="531.82" stroke="#EBEBEB" stroke-width="0.6"/>
<line x1="638.14" x2="685.4" y1="550.85" y2="550.85" stroke="#EBEBEB" stroke-width="0.6"/>
<line x1="638.14" x2="685.4" y1="569.89" y2="569.89" stroke="#EBEBEB" stroke-width="0.6"/>
<line x1="638.14" x2="685.4" y1="522.3" y2="522.3" stroke="#EBEBEB" stroke-width="0.9"/>
<line x1="638.14" x2="685.4" y1="541.34" y2="541.34" stroke="#EBEBEB" stroke-width="0.9"/>
<line x1="638.14" x2="685.4" y1="560.37" y2="560.37" stroke="#EBEBEB" stroke-width="0.9"/>
<line x1="638.14" x2="685.4" y1="579.4" y2="579.4" stroke="#EBEBEB" stroke-width="0.9"/>
<line x1="651.02" x2="651.02" y1="517.5" y2="583.5" stroke="#EBEBEB" stroke-width="0.9"/>
<line x1="672.51" x2="672.51" y1="517.5" y2="583.5" stroke="#EBEBEB" stroke-width="0.9"/>
<text font-size="9.0" fill="#1A1A1A" stroke="#1A1A1A" stroke-width="0.08" text-anchor="middle" transform="translate(661.77 513.7) scale(1 1.04)">OAS</text>
<text font-size="11.25" fill="#4D4D4D" stroke="#4D4D4D" stroke-width="0.20" text-anchor="end" transform="translate(656.82 587.3) rotate(-90) scale(1 1.04)">REF</text>
<text font-size="11.25" fill="#4D4D4D" stroke="#4D4D4D" stroke-width="0.20" text-anchor="end" transform="translate(678.31 587.3) rotate(-90) scale(1 1.015)">50%</text>
<rect x="41.78" y="558.2" width="19.33" height="2.2" fill="#BCBDDC"/>
<circle cx="51.45" cy="558.5" r="2.3" fill="#000"/>
<rect x="63.27" y="559.3" width="19.33" height="1.3" fill="#BCBDDC"/>
<circle cx="72.93" cy="559.6" r="2.3" fill="#000"/>
<rect x="91.75" y="547.5" width="19.33" height="2" fill="#756BB1"/>
<rect x="91.75" y="549" width="19.33" height="11.4" fill="#BCBDDC"/>
<circle cx="101.41" cy="547.5" r="2.3" fill="#000"/>
<rect x="113.23" y="548" width="19.33" height="12.9" fill="#BCBDDC"/>
<rect x="113.23" y="560.4" width="19.33" height="3.3" fill="#756BB1"/>
<circle cx="122.9" cy="551.3" r="2.3" fill="#000"/>
<rect x="141.71" y="548" width="19.33" height="1.9" fill="#756BB1"/>
<rect x="141.71" y="549.4" width="19.33" height="11" fill="#BCBDDC"/>
<circle cx="151.38" cy="547.7" r="2.3" fill="#000"/>
<rect x="163.2" y="551.2" width="19.33" height="9.7" fill="#BCBDDC"/>
<rect x="163.2" y="560.4" width="19.33" height="0.7" fill="#756BB1"/>
<circle cx="172.86" cy="551.9" r="2.3" fill="#000"/>
<rect x="191.68" y="533.8" width="19.33" height="27.1" fill="#BCBDDC"/>
<rect x="191.68" y="560.4" width="19.33" height="1.4" fill="#756BB1"/>
<circle cx="201.34" cy="535.5" r="2.3" fill="#000"/>
<rect x="213.16" y="536.3" width="19.33" height="24.6" fill="#BCBDDC"/>
<rect x="213.16" y="560.4" width="19.33" height="3.6" fill="#756BB1"/>
<circle cx="222.83" cy="540.2" r="2.3" fill="#000"/>
<rect x="241.64" y="557" width="19.33" height="3.4" fill="#BCBDDC"/>
<circle cx="251.31" cy="557.4" r="2.3" fill="#000"/>
<rect x="263.13" y="557.9" width="19.33" height="3" fill="#BCBDDC"/>
<rect x="263.13" y="560.4" width="19.33" height="0.6" fill="#756BB1"/>
<circle cx="272.79" cy="558.6" r="2.3" fill="#000"/>
<rect x="291.61" y="544" width="19.33" height="16.9" fill="#BCBDDC"/>
<rect x="291.61" y="560.4" width="19.33" height="7.3" fill="#756BB1"/>
<circle cx="301.27" cy="551.9" r="2.3" fill="#000"/>
<rect x="313.09" y="560.4" width="19.33" height="6" fill="#BCBDDC"/>
<rect x="313.09" y="565.9" width="19.33" height="14.9" fill="#756BB1"/>
<circle cx="322.76" cy="580.5" r="2.3" fill="#000"/>
<rect x="341.57" y="527.1" width="19.33" height="33.3" fill="#BCBDDC"/>
<circle cx="351.24" cy="527.2" r="2.3" fill="#000"/>
<rect x="363.06" y="526.1" width="19.33" height="34.8" fill="#BCBDDC"/>
<rect x="363.06" y="560.4" width="19.33" height="2.4" fill="#756BB1"/>
<circle cx="372.72" cy="529" r="2.3" fill="#000"/>
<rect x="391.54" y="537" width="19.33" height="2.3" fill="#756BB1"/>
<rect x="391.54" y="538.8" width="19.33" height="21.6" fill="#BCBDDC"/>
<circle cx="401.2" cy="537" r="2.3" fill="#000"/>
<rect x="413.02" y="548" width="19.33" height="12.4" fill="#BCBDDC"/>
<circle cx="422.69" cy="548.7" r="2.3" fill="#000"/>
<rect x="441.5" y="550" width="19.33" height="6.4" fill="#756BB1"/>
<rect x="441.5" y="555.9" width="19.33" height="4.5" fill="#BCBDDC"/>
<circle cx="451.17" cy="549.7" r="2.3" fill="#000"/>
<rect x="462.99" y="558.9" width="19.33" height="1.8" fill="#756BB1"/>
<rect x="462.99" y="560.2" width="19.33" height="2.6" fill="#BCBDDC"/>
<circle cx="472.65" cy="561.5" r="2.3" fill="#000"/>
<rect x="491.46" y="546.8" width="19.33" height="2.4" fill="#756BB1"/>
<rect x="491.46" y="548.7" width="19.33" height="11.7" fill="#BCBDDC"/>
<circle cx="501.13" cy="546.5" r="2.3" fill="#000"/>
<rect x="512.95" y="551.9" width="19.33" height="8.5" fill="#BCBDDC"/>
<circle cx="522.62" cy="551.9" r="2.3" fill="#000"/>
<rect x="541.43" y="519.9" width="19.33" height="41" fill="#BCBDDC"/>
<rect x="541.43" y="560.4" width="19.33" height="2.2" fill="#756BB1"/>
<circle cx="551.1" cy="522.4" r="2.3" fill="#000"/>
<rect x="562.92" y="521.7" width="19.33" height="39.2" fill="#BCBDDC"/>
<rect x="562.92" y="560.4" width="19.33" height="3.3" fill="#756BB1"/>
<circle cx="572.58" cy="525" r="2.3" fill="#000"/>
<rect x="591.39" y="534.1" width="19.33" height="26.8" fill="#BCBDDC"/>
<rect x="591.39" y="560.4" width="19.33" height="0.5" fill="#756BB1"/>
<circle cx="601.06" cy="534.8" r="2.3" fill="#000"/>
<rect x="612.88" y="540.4" width="19.33" height="20.5" fill="#BCBDDC"/>
<rect x="612.88" y="560.4" width="19.33" height="1.9" fill="#756BB1"/>
<circle cx="622.55" cy="542.6" r="2.3" fill="#000"/>
<rect x="641.36" y="544.1" width="19.33" height="3.1" fill="#756BB1"/>
<rect x="641.36" y="546.7" width="19.33" height="13.7" fill="#BCBDDC"/>
<circle cx="651.02" cy="544.1" r="2.3" fill="#000"/>
<rect x="662.85" y="550.1" width="19.33" height="1.2" fill="#756BB1"/>
<rect x="662.85" y="550.8" width="19.33" height="9.6" fill="#BCBDDC"/>
<circle cx="672.51" cy="550.1" r="2.3" fill="#000"/>
<text font-size="9.0" fill="#4D4D4D" stroke="#4D4D4D" stroke-width="0.08" text-anchor="end" transform="translate(36.31 525.9)">10</text>
<text font-size="9.0" fill="#4D4D4D" stroke="#4D4D4D" stroke-width="0.08" text-anchor="end" transform="translate(36.31 544.94)">5</text>
<text font-size="9.0" fill="#4D4D4D" stroke="#4D4D4D" stroke-width="0.08" text-anchor="end" transform="translate(36.31 563.97)">0</text>
<text font-size="9.0" fill="#4D4D4D" stroke="#4D4D4D" stroke-width="0.08" text-anchor="end" transform="translate(36.31 583)">−5</text>
<text font-size="13.5" fill="#000" stroke="#000" stroke-width="0.20" text-anchor="start" transform="translate(39.5 498)">Nitrogen input to cropland, REF vs. 50% in 2050</text>
<text font-size="11.25" fill="#000" text-anchor="start" font-weight="bold" transform="translate(2 497.1)">d</text>
<line x1="26.35" x2="74.56" y1="700.5" y2="700.5" stroke="#EBEBEB" stroke-width="0.6"/>
<line x1="26.35" x2="74.56" y1="730.5" y2="730.5" stroke="#EBEBEB" stroke-width="0.6"/>
<line x1="26.35" x2="74.56" y1="760.5" y2="760.5" stroke="#EBEBEB" stroke-width="0.6"/>
<line x1="26.35" x2="74.56" y1="685.5" y2="685.5" stroke="#EBEBEB" stroke-width="0.9"/>
<line x1="26.35" x2="74.56" y1="715.5" y2="715.5" stroke="#EBEBEB" stroke-width="0.9"/>
<line x1="26.35" x2="74.56" y1="745.5" y2="745.5" stroke="#EBEBEB" stroke-width="0.9"/>
<line x1="39.5" x2="39.5" y1="679.4" y2="768" stroke="#EBEBEB" stroke-width="0.9"/>
<line x1="61.41" x2="61.41" y1="679.4" y2="768" stroke="#EBEBEB" stroke-width="0.9"/>
<text font-size="9.0" fill="#1A1A1A" stroke="#1A1A1A" stroke-width="0.08" text-anchor="middle" transform="translate(50.45 675.6) scale(1 1.04)">ANZ</text>
<text font-size="11.25" fill="#4D4D4D" stroke="#4D4D4D" stroke-width="0.20" text-anchor="end" transform="translate(43.5 771.8) rotate(-90) scale(1 1.04)">REF</text>
<text font-size="11.25" fill="#4D4D4D" stroke="#4D4D4D" stroke-width="0.20" text-anchor="end" transform="translate(65.41 771.8) rotate(-90) scale(1 1.015)">50%</text>
<line x1="77.26" x2="125.46" y1="700.5" y2="700.5" stroke="#EBEBEB" stroke-width="0.6"/>
<line x1="77.26" x2="125.46" y1="730.5" y2="730.5" stroke="#EBEBEB" stroke-width="0.6"/>
<line x1="77.26" x2="125.46" y1="760.5" y2="760.5" stroke="#EBEBEB" stroke-width="0.6"/>
<line x1="77.26" x2="125.46" y1="685.5" y2="685.5" stroke="#EBEBEB" stroke-width="0.9"/>
<line x1="77.26" x2="125.46" y1="715.5" y2="715.5" stroke="#EBEBEB" stroke-width="0.9"/>
<line x1="77.26" x2="125.46" y1="745.5" y2="745.5" stroke="#EBEBEB" stroke-width="0.9"/>
<line x1="90.4" x2="90.4" y1="679.4" y2="768" stroke="#EBEBEB" stroke-width="0.9"/>
<line x1="112.32" x2="112.32" y1="679.4" y2="768" stroke="#EBEBEB" stroke-width="0.9"/>
<text font-size="9.0" fill="#1A1A1A" stroke="#1A1A1A" stroke-width="0.08" text-anchor="middle" transform="translate(101.36 675.6) scale(1 1.04)">USA</text>
<text font-size="11.25" fill="#4D4D4D" stroke="#4D4D4D" stroke-width="0.20" text-anchor="end" transform="translate(94.4 771.8) rotate(-90) scale(1 1.04)">REF</text>
<text font-size="11.25" fill="#4D4D4D" stroke="#4D4D4D" stroke-width="0.20" text-anchor="end" transform="translate(116.32 771.8) rotate(-90) scale(1 1.015)">50%</text>
<line x1="128.16" x2="176.36" y1="700.5" y2="700.5" stroke="#EBEBEB" stroke-width="0.6"/>
<line x1="128.16" x2="176.36" y1="730.5" y2="730.5" stroke="#EBEBEB" stroke-width="0.6"/>
<line x1="128.16" x2="176.36" y1="760.5" y2="760.5" stroke="#EBEBEB" stroke-width="0.6"/>
<line x1="128.16" x2="176.36" y1="685.5" y2="685.5" stroke="#EBEBEB" stroke-width="0.9"/>
<line x1="128.16" x2="176.36" y1="715.5" y2="715.5" stroke="#EBEBEB" stroke-width="0.9"/>
<line x1="128.16" x2="176.36" y1="745.5" y2="745.5" stroke="#EBEBEB" stroke-width="0.9"/>
<line x1="141.31" x2="141.31" y1="679.4" y2="768" stroke="#EBEBEB" stroke-width="0.9"/>
<line x1="163.22" x2="163.22" y1="679.4" y2="768" stroke="#EBEBEB" stroke-width="0.9"/>
<text font-size="9.0" fill="#1A1A1A" stroke="#1A1A1A" stroke-width="0.08" text-anchor="middle" transform="translate(152.26 675.6) scale(1 1.04)">FSU</text>
<text font-size="11.25" fill="#4D4D4D" stroke="#4D4D4D" stroke-width="0.20" text-anchor="end" transform="translate(145.31 771.8) rotate(-90) scale(1 1.04)">REF</text>
<text font-size="11.25" fill="#4D4D4D" stroke="#4D4D4D" stroke-width="0.20" text-anchor="end" transform="translate(167.22 771.8) rotate(-90) scale(1 1.015)">50%</text>
<line x1="179.06" x2="227.27" y1="700.5" y2="700.5" stroke="#EBEBEB" stroke-width="0.6"/>
<line x1="179.06" x2="227.27" y1="730.5" y2="730.5" stroke="#EBEBEB" stroke-width="0.6"/>
<line x1="179.06" x2="227.27" y1="760.5" y2="760.5" stroke="#EBEBEB" stroke-width="0.6"/>
<line x1="179.06" x2="227.27" y1="685.5" y2="685.5" stroke="#EBEBEB" stroke-width="0.9"/>
<line x1="179.06" x2="227.27" y1="715.5" y2="715.5" stroke="#EBEBEB" stroke-width="0.9"/>
<line x1="179.06" x2="227.27" y1="745.5" y2="745.5" stroke="#EBEBEB" stroke-width="0.9"/>
<line x1="192.21" x2="192.21" y1="679.4" y2="768" stroke="#EBEBEB" stroke-width="0.9"/>
<line x1="214.12" x2="214.12" y1="679.4" y2="768" stroke="#EBEBEB" stroke-width="0.9"/>
<text font-size="9.0" fill="#1A1A1A" stroke="#1A1A1A" stroke-width="0.08" text-anchor="middle" transform="translate(203.17 675.6) scale(1 1.04)">BRA</text>
<text font-size="11.25" fill="#4D4D4D" stroke="#4D4D4D" stroke-width="0.20" text-anchor="end" transform="translate(196.21 771.8) rotate(-90) scale(1 1.04)">REF</text>
<text font-size="11.25" fill="#4D4D4D" stroke="#4D4D4D" stroke-width="0.20" text-anchor="end" transform="translate(218.12 771.8) rotate(-90) scale(1 1.015)">50%</text>
<line x1="229.97" x2="278.17" y1="700.5" y2="700.5" stroke="#EBEBEB" stroke-width="0.6"/>
<line x1="229.97" x2="278.17" y1="730.5" y2="730.5" stroke="#EBEBEB" stroke-width="0.6"/>
<line x1="229.97" x2="278.17" y1="760.5" y2="760.5" stroke="#EBEBEB" stroke-width="0.6"/>
<line x1="229.97" x2="278.17" y1="685.5" y2="685.5" stroke="#EBEBEB" stroke-width="0.9"/>
<line x1="229.97" x2="278.17" y1="715.5" y2="715.5" stroke="#EBEBEB" stroke-width="0.9"/>
<line x1="229.97" x2="278.17" y1="745.5" y2="745.5" stroke="#EBEBEB" stroke-width="0.9"/>
<line x1="243.11" x2="243.11" y1="679.4" y2="768" stroke="#EBEBEB" stroke-width="0.9"/>
<line x1="265.03" x2="265.03" y1="679.4" y2="768" stroke="#EBEBEB" stroke-width="0.9"/>
<text font-size="9.0" fill="#1A1A1A" stroke="#1A1A1A" stroke-width="0.08" text-anchor="middle" transform="translate(254.07 675.6) scale(1 1.04)">CAN</text>
<text font-size="11.25" fill="#4D4D4D" stroke="#4D4D4D" stroke-width="0.20" text-anchor="end" transform="translate(247.11 771.8) rotate(-90) scale(1 1.04)">REF</text>
<text font-size="11.25" fill="#4D4D4D" stroke="#4D4D4D" stroke-width="0.20" text-anchor="end" transform="translate(269.03 771.8) rotate(-90) scale(1 1.015)">50%</text>
<line x1="280.87" x2="329.07" y1="700.5" y2="700.5" stroke="#EBEBEB" stroke-width="0.6"/>
<line x1="280.87" x2="329.07" y1="730.5" y2="730.5" stroke="#EBEBEB" stroke-width="0.6"/>
<line x1="280.87" x2="329.07" y1="760.5" y2="760.5" stroke="#EBEBEB" stroke-width="0.6"/>
<line x1="280.87" x2="329.07" y1="685.5" y2="685.5" stroke="#EBEBEB" stroke-width="0.9"/>
<line x1="280.87" x2="329.07" y1="715.5" y2="715.5" stroke="#EBEBEB" stroke-width="0.9"/>
<line x1="280.87" x2="329.07" y1="745.5" y2="745.5" stroke="#EBEBEB" stroke-width="0.9"/>
<line x1="294.02" x2="294.02" y1="679.4" y2="768" stroke="#EBEBEB" stroke-width="0.9"/>
<line x1="315.93" x2="315.93" y1="679.4" y2="768" stroke="#EBEBEB" stroke-width="0.9"/>
<text font-size="9.0" fill="#1A1A1A" stroke="#1A1A1A" stroke-width="0.08" text-anchor="middle" transform="translate(304.97 675.6) scale(1 1.04)">CHN</text>
<text font-size="11.25" fill="#4D4D4D" stroke="#4D4D4D" stroke-width="0.20" text-anchor="end" transform="translate(298.02 771.8) rotate(-90) scale(1 1.04)">REF</text>
<text font-size="11.25" fill="#4D4D4D" stroke="#4D4D4D" stroke-width="0.20" text-anchor="end" transform="translate(319.93 771.8) rotate(-90) scale(1 1.015)">50%</text>
<line x1="331.77" x2="379.98" y1="700.5" y2="700.5" stroke="#EBEBEB" stroke-width="0.6"/>
<line x1="331.77" x2="379.98" y1="730.5" y2="730.5" stroke="#EBEBEB" stroke-width="0.6"/>
<line x1="331.77" x2="379.98" y1="760.5" y2="760.5" stroke="#EBEBEB" stroke-width="0.6"/>
<line x1="331.77" x2="379.98" y1="685.5" y2="685.5" stroke="#EBEBEB" stroke-width="0.9"/>
<line x1="331.77" x2="379.98" y1="715.5" y2="715.5" stroke="#EBEBEB" stroke-width="0.9"/>
<line x1="331.77" x2="379.98" y1="745.5" y2="745.5" stroke="#EBEBEB" stroke-width="0.9"/>
<line x1="344.92" x2="344.92" y1="679.4" y2="768" stroke="#EBEBEB" stroke-width="0.9"/>
<line x1="366.83" x2="366.83" y1="679.4" y2="768" stroke="#EBEBEB" stroke-width="0.9"/>
<text font-size="9.0" fill="#1A1A1A" stroke="#1A1A1A" stroke-width="0.08" text-anchor="middle" transform="translate(355.88 675.6) scale(1 1.04)">IND</text>
<text font-size="11.25" fill="#4D4D4D" stroke="#4D4D4D" stroke-width="0.20" text-anchor="end" transform="translate(348.92 771.8) rotate(-90) scale(1 1.04)">REF</text>
<text font-size="11.25" fill="#4D4D4D" stroke="#4D4D4D" stroke-width="0.20" text-anchor="end" transform="translate(370.83 771.8) rotate(-90) scale(1 1.015)">50%</text>
<line x1="382.68" x2="430.88" y1="700.5" y2="700.5" stroke="#EBEBEB" stroke-width="0.6"/>
<line x1="382.68" x2="430.88" y1="730.5" y2="730.5" stroke="#EBEBEB" stroke-width="0.6"/>
<line x1="382.68" x2="430.88" y1="760.5" y2="760.5" stroke="#EBEBEB" stroke-width="0.6"/>
<line x1="382.68" x2="430.88" y1="685.5" y2="685.5" stroke="#EBEBEB" stroke-width="0.9"/>
<line x1="382.68" x2="430.88" y1="715.5" y2="715.5" stroke="#EBEBEB" stroke-width="0.9"/>
<line x1="382.68" x2="430.88" y1="745.5" y2="745.5" stroke="#EBEBEB" stroke-width="0.9"/>
<line x1="395.82" x2="395.82" y1="679.4" y2="768" stroke="#EBEBEB" stroke-width="0.9"/>
<line x1="417.74" x2="417.74" y1="679.4" y2="768" stroke="#EBEBEB" stroke-width="0.9"/>
<text font-size="9.0" fill="#1A1A1A" stroke="#1A1A1A" stroke-width="0.08" text-anchor="middle" transform="translate(406.78 675.6) scale(1 1.04)">OSA</text>
<text font-size="11.25" fill="#4D4D4D" stroke="#4D4D4D" stroke-width="0.20" text-anchor="end" transform="translate(399.82 771.8) rotate(-90) scale(1 1.04)">REF</text>
<text font-size="11.25" fill="#4D4D4D" stroke="#4D4D4D" stroke-width="0.20" text-anchor="end" transform="translate(421.74 771.8) rotate(-90) scale(1 1.015)">50%</text>
<line x1="433.58" x2="481.79" y1="700.5" y2="700.5" stroke="#EBEBEB" stroke-width="0.6"/>
<line x1="433.58" x2="481.79" y1="730.5" y2="730.5" stroke="#EBEBEB" stroke-width="0.6"/>
<line x1="433.58" x2="481.79" y1="760.5" y2="760.5" stroke="#EBEBEB" stroke-width="0.6"/>
<line x1="433.58" x2="481.79" y1="685.5" y2="685.5" stroke="#EBEBEB" stroke-width="0.9"/>
<line x1="433.58" x2="481.79" y1="715.5" y2="715.5" stroke="#EBEBEB" stroke-width="0.9"/>
<line x1="433.58" x2="481.79" y1="745.5" y2="745.5" stroke="#EBEBEB" stroke-width="0.9"/>
<line x1="446.73" x2="446.73" y1="679.4" y2="768" stroke="#EBEBEB" stroke-width="0.9"/>
<line x1="468.64" x2="468.64" y1="679.4" y2="768" stroke="#EBEBEB" stroke-width="0.9"/>
<text font-size="9.0" fill="#1A1A1A" stroke="#1A1A1A" stroke-width="0.08" text-anchor="middle" transform="translate(457.68 675.6) scale(1 1.04)">EUR</text>
<text font-size="11.25" fill="#4D4D4D" stroke="#4D4D4D" stroke-width="0.20" text-anchor="end" transform="translate(450.73 771.8) rotate(-90) scale(1 1.04)">REF</text>
<text font-size="11.25" fill="#4D4D4D" stroke="#4D4D4D" stroke-width="0.20" text-anchor="end" transform="translate(472.64 771.8) rotate(-90) scale(1 1.015)">50%</text>
<line x1="484.49" x2="532.69" y1="700.5" y2="700.5" stroke="#EBEBEB" stroke-width="0.6"/>
<line x1="484.49" x2="532.69" y1="730.5" y2="730.5" stroke="#EBEBEB" stroke-width="0.6"/>
<line x1="484.49" x2="532.69" y1="760.5" y2="760.5" stroke="#EBEBEB" stroke-width="0.6"/>
<line x1="484.49" x2="532.69" y1="685.5" y2="685.5" stroke="#EBEBEB" stroke-width="0.9"/>
<line x1="484.49" x2="532.69" y1="715.5" y2="715.5" stroke="#EBEBEB" stroke-width="0.9"/>
<line x1="484.49" x2="532.69" y1="745.5" y2="745.5" stroke="#EBEBEB" stroke-width="0.9"/>
<line x1="497.63" x2="497.63" y1="679.4" y2="768" stroke="#EBEBEB" stroke-width="0.9"/>
<line x1="519.54" x2="519.54" y1="679.4" y2="768" stroke="#EBEBEB" stroke-width="0.9"/>
<text font-size="9.0" fill="#1A1A1A" stroke="#1A1A1A" stroke-width="0.08" text-anchor="middle" transform="translate(508.59 675.6) scale(1 1.04)">MEN</text>
<text font-size="11.25" fill="#4D4D4D" stroke="#4D4D4D" stroke-width="0.20" text-anchor="end" transform="translate(501.63 771.8) rotate(-90) scale(1 1.04)">REF</text>
<text font-size="11.25" fill="#4D4D4D" stroke="#4D4D4D" stroke-width="0.20" text-anchor="end" transform="translate(523.54 771.8) rotate(-90) scale(1 1.015)">50%</text>
<line x1="535.39" x2="583.59" y1="700.5" y2="700.5" stroke="#EBEBEB" stroke-width="0.6"/>
<line x1="535.39" x2="583.59" y1="730.5" y2="730.5" stroke="#EBEBEB" stroke-width="0.6"/>
<line x1="535.39" x2="583.59" y1="760.5" y2="760.5" stroke="#EBEBEB" stroke-width="0.6"/>
<line x1="535.39" x2="583.59" y1="685.5" y2="685.5" stroke="#EBEBEB" stroke-width="0.9"/>
<line x1="535.39" x2="583.59" y1="715.5" y2="715.5" stroke="#EBEBEB" stroke-width="0.9"/>
<line x1="535.39" x2="583.59" y1="745.5" y2="745.5" stroke="#EBEBEB" stroke-width="0.9"/>
<line x1="548.53" x2="548.53" y1="679.4" y2="768" stroke="#EBEBEB" stroke-width="0.9"/>
<line x1="570.45" x2="570.45" y1="679.4" y2="768" stroke="#EBEBEB" stroke-width="0.9"/>
<text font-size="9.0" fill="#1A1A1A" stroke="#1A1A1A" stroke-width="0.08" text-anchor="middle" transform="translate(559.49 675.6) scale(1 1.04)">SSA</text>
<text font-size="11.25" fill="#4D4D4D" stroke="#4D4D4D" stroke-width="0.20" text-anchor="end" transform="translate(552.53 771.8) rotate(-90) scale(1 1.04)">REF</text>
<text font-size="11.25" fill="#4D4D4D" stroke="#4D4D4D" stroke-width="0.20" text-anchor="end" transform="translate(574.45 771.8) rotate(-90) scale(1 1.015)">50%</text>
<line x1="586.29" x2="634.5" y1="700.5" y2="700.5" stroke="#EBEBEB" stroke-width="0.6"/>
<line x1="586.29" x2="634.5" y1="730.5" y2="730.5" stroke="#EBEBEB" stroke-width="0.6"/>
<line x1="586.29" x2="634.5" y1="760.5" y2="760.5" stroke="#EBEBEB" stroke-width="0.6"/>
<line x1="586.29" x2="634.5" y1="685.5" y2="685.5" stroke="#EBEBEB" stroke-width="0.9"/>
<line x1="586.29" x2="634.5" y1="715.5" y2="715.5" stroke="#EBEBEB" stroke-width="0.9"/>
<line x1="586.29" x2="634.5" y1="745.5" y2="745.5" stroke="#EBEBEB" stroke-width="0.9"/>
<line x1="599.44" x2="599.44" y1="679.4" y2="768" stroke="#EBEBEB" stroke-width="0.9"/>
<line x1="621.35" x2="621.35" y1="679.4" y2="768" stroke="#EBEBEB" stroke-width="0.9"/>
<text font-size="9.0" fill="#1A1A1A" stroke="#1A1A1A" stroke-width="0.08" text-anchor="middle" transform="translate(610.39 675.6) scale(1 1.04)">SEA</text>
<text font-size="11.25" fill="#4D4D4D" stroke="#4D4D4D" stroke-width="0.20" text-anchor="end" transform="translate(603.44 771.8) rotate(-90) scale(1 1.04)">REF</text>
<text font-size="11.25" fill="#4D4D4D" stroke="#4D4D4D" stroke-width="0.20" text-anchor="end" transform="translate(625.35 771.8) rotate(-90) scale(1 1.015)">50%</text>
<line x1="637.2" x2="685.4" y1="700.5" y2="700.5" stroke="#EBEBEB" stroke-width="0.6"/>
<line x1="637.2" x2="685.4" y1="730.5" y2="730.5" stroke="#EBEBEB" stroke-width="0.6"/>
<line x1="637.2" x2="685.4" y1="760.5" y2="760.5" stroke="#EBEBEB" stroke-width="0.6"/>
<line x1="637.2" x2="685.4" y1="685.5" y2="685.5" stroke="#EBEBEB" stroke-width="0.9"/>
<line x1="637.2" x2="685.4" y1="715.5" y2="715.5" stroke="#EBEBEB" stroke-width="0.9"/>
<line x1="637.2" x2="685.4" y1="745.5" y2="745.5" stroke="#EBEBEB" stroke-width="0.9"/>
<line x1="650.34" x2="650.34" y1="679.4" y2="768" stroke="#EBEBEB" stroke-width="0.9"/>
<line x1="672.25" x2="672.25" y1="679.4" y2="768" stroke="#EBEBEB" stroke-width="0.9"/>
<text font-size="9.0" fill="#1A1A1A" stroke="#1A1A1A" stroke-width="0.08" text-anchor="middle" transform="translate(661.3 675.6) scale(1 1.04)">OAS</text>
<text font-size="11.25" fill="#4D4D4D" stroke="#4D4D4D" stroke-width="0.20" text-anchor="end" transform="translate(654.34 771.8) rotate(-90) scale(1 1.04)">REF</text>
<text font-size="11.25" fill="#4D4D4D" stroke="#4D4D4D" stroke-width="0.20" text-anchor="end" transform="translate(676.25 771.8) rotate(-90) scale(1 1.015)">50%</text>
<rect x="29.64" y="685.5" width="19.72" height="8.5" fill="#BCBDDC"/>
<rect x="51.55" y="685.5" width="19.72" height="11.1" fill="#BCBDDC"/>
<rect x="80.54" y="685.5" width="19.72" height="12.4" fill="#BCBDDC"/>
<rect x="102.46" y="685.5" width="19.72" height="5.6" fill="#BCBDDC"/>
<rect x="131.45" y="685.5" width="19.72" height="6.4" fill="#BCBDDC"/>
<rect x="153.36" y="684.3" width="19.72" height="1.2" fill="#BCBDDC"/>
<rect x="182.35" y="685.5" width="19.72" height="17.5" fill="#BCBDDC"/>
<rect x="204.26" y="683.1" width="19.72" height="2.4" fill="#BCBDDC"/>
<rect x="233.25" y="685.5" width="19.72" height="5.5" fill="#BCBDDC"/>
<rect x="255.17" y="685.5" width="19.72" height="3.9" fill="#BCBDDC"/>
<rect x="284.16" y="685.5" width="19.72" height="57.4" fill="#BCBDDC"/>
<rect x="306.07" y="685.5" width="19.72" height="29.2" fill="#BCBDDC"/>
<rect x="335.06" y="685.5" width="19.72" height="27.2" fill="#BCBDDC"/>
<rect x="356.98" y="685.5" width="19.72" height="7.3" fill="#BCBDDC"/>
<rect x="385.97" y="685.5" width="19.72" height="32.4" fill="#BCBDDC"/>
<rect x="407.88" y="685.5" width="19.72" height="16.1" fill="#BCBDDC"/>
<rect x="436.87" y="685.5" width="19.72" height="44.5" fill="#BCBDDC"/>
<rect x="458.78" y="685.5" width="19.72" height="14.2" fill="#BCBDDC"/>
<rect x="487.77" y="685.5" width="19.72" height="52.3" fill="#BCBDDC"/>
<rect x="509.69" y="685.5" width="19.72" height="37.7" fill="#BCBDDC"/>
<rect x="538.68" y="685.5" width="19.72" height="49.4" fill="#BCBDDC"/>
<rect x="560.59" y="685.5" width="19.72" height="19.3" fill="#BCBDDC"/>
<rect x="589.58" y="685.5" width="19.72" height="79.1" fill="#BCBDDC"/>
<rect x="611.49" y="685.5" width="19.72" height="47.3" fill="#BCBDDC"/>
<rect x="640.48" y="685.5" width="19.72" height="44.1" fill="#BCBDDC"/>
<rect x="662.4" y="685.5" width="19.72" height="32.4" fill="#BCBDDC"/>
<text font-size="9.0" fill="#4D4D4D" stroke="#4D4D4D" stroke-width="0.08" text-anchor="end" transform="translate(24.1 689.1)">0</text>
<text font-size="9.0" fill="#4D4D4D" stroke="#4D4D4D" stroke-width="0.08" text-anchor="end" transform="translate(24.1 719.1)">−2</text>
<text font-size="9.0" fill="#4D4D4D" stroke="#4D4D4D" stroke-width="0.08" text-anchor="end" transform="translate(24.1 749.1)">−4</text>
<text font-size="13.5" fill="#000" stroke="#000" stroke-width="0.20" text-anchor="start" transform="translate(27.1 659.8)">Biodiversity Intactness Index, REF vs. 50% in 2050</text>
<text font-size="11.25" fill="#000" text-anchor="start" font-weight="bold" transform="translate(2 659.4)">e</text>
<text x="10.3" y="64.4" font-size="11.25" fill="#000" stroke="#000" stroke-width="0.2" text-anchor="middle" transform="rotate(-90 10.3 64.4)">Mha diff to 2020</text>
<text x="10" y="260.5" font-size="11.25" fill="#000" stroke="#000" stroke-width="0.2" text-anchor="middle" transform="rotate(-90 10 260.5)">Gt CO<tspan font-size="8.2" dy="2">2</tspan><tspan dy="-2"> eq/year diff to 2020</tspan></text>
<text x="12.9" y="399.8" font-size="11.25" fill="#000" stroke="#000" stroke-width="0.2" text-anchor="middle" transform="rotate(-90 12.9 399.8)">km<tspan font-size="7.4" dy="-4.6">3</tspan><tspan dy="4.6"> diff to 2020</tspan></text>
<text x="9.8" y="552" font-size="11.25" fill="#000" stroke="#000" stroke-width="0.2" text-anchor="middle" transform="rotate(-90 9.8 552)">Mt</text>
<text x="21.9" y="539.4" font-size="11.25" fill="#000" stroke="#000" stroke-width="0.2" text-anchor="middle" transform="rotate(-90 21.9 539.4)">diff to 2020</text>
<text x="9.9" y="724" font-size="11.25" fill="#000" stroke="#000" stroke-width="0.2" text-anchor="middle" transform="rotate(-90 9.9 724)">% change to 2020</text>
<rect x="195" y="144.3" width="4.8" height="9.9" fill="#7B3294"/>
<text font-size="11.25" fill="#000" stroke="#000" stroke-width="0.20" text-anchor="start" transform="translate(206 153.6)">Cropland</text>
<rect x="257.6" y="144.3" width="4.8" height="9.9" fill="#C2A5CF"/>
<text font-size="11.25" fill="#000" stroke="#000" stroke-width="0.20" text-anchor="start" transform="translate(268.4 153.6)">Grassland</text>
<rect x="325.8" y="144.3" width="4.8" height="9.9" fill="#F7F7F7"/>
<text font-size="11.25" fill="#000" stroke="#000" stroke-width="0.20" text-anchor="start" transform="translate(336 153.6)">Forest</text>
<rect x="374.8" y="144.3" width="4.8" height="9.9" fill="#A6DBA0"/>
<text font-size="11.25" fill="#000" stroke="#000" stroke-width="0.20" text-anchor="start" transform="translate(384.8 153.6)">Natural land</text>
<rect x="451.8" y="144.3" width="4.8" height="9.9" fill="#008837"/>
<text font-size="11.25" fill="#000" stroke="#000" stroke-width="0.20" text-anchor="start" transform="translate(462.2 153.6)">Restored land</text>
<rect x="168.7" y="304.1" width="4.8" height="12" fill="#7B3294"/>
<text font-size="11.25" fill="#000" stroke="#000" stroke-width="0.20" text-anchor="start" transform="translate(179.4 314)">Restored land CO<tspan font-size="8.2" dy="2">2</tspan></text>
<rect x="280.2" y="304.1" width="4.8" height="12" fill="#C2A5CF"/>
<text font-size="11.25" fill="#000" stroke="#000" stroke-width="0.20" text-anchor="start" transform="translate(290.6 314)">Land use CO<tspan font-size="8.2" dy="2">2</tspan></text>
<rect x="368" y="304.1" width="4.8" height="12" fill="#A6DBA0"/>
<text font-size="11.25" fill="#000" stroke="#000" stroke-width="0.20" text-anchor="start" transform="translate(378.4 314)">Agricultural CH<tspan font-size="8.2" dy="2">4</tspan></text>
<rect x="465" y="304.1" width="4.8" height="12" fill="#008837"/>
<text font-size="11.25" fill="#000" stroke="#000" stroke-width="0.20" text-anchor="start" transform="translate(475.2 314)">Agricultural N<tspan font-size="8.2" dy="2">2</tspan><tspan dy="-2"> O</tspan></text>
<rect x="282.9" y="631.2" width="4.2" height="9" fill="#756BB1"/>
<text font-size="11.25" fill="#000" stroke="#000" stroke-width="0.20" text-anchor="start" transform="translate(292.4 639.5)">N manure</text>
<rect x="348.2" y="631.2" width="4.2" height="9" fill="#BCBDDC"/>
<text font-size="11.25" fill="#000" stroke="#000" stroke-width="0.20" text-anchor="start" transform="translate(358.2 639.5)">N other</text>
<circle cx="415.3" cy="635.5" r="2.2" fill="#000"/>
<text font-size="11.25" fill="#000" stroke="#000" stroke-width="0.20" text-anchor="start" transform="translate(424.2 639.5)">Total</text>
</svg></body></html>
